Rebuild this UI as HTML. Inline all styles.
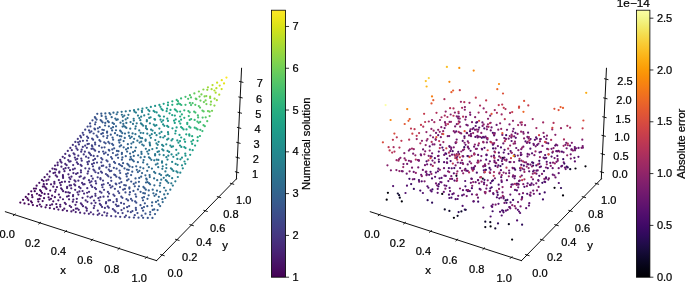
<!DOCTYPE html>
<html><head><meta charset="utf-8"><title>Numerical solution and absolute error</title>
<style>
html,body{margin:0;padding:0;background:#fff;}
body{width:685px;height:282px;overflow:hidden;font-family:"Liberation Sans",sans-serif;}
svg{display:block;will-change:transform;}
text{font-family:"Liberation Sans",sans-serif;font-size:10.3px;fill:#000;stroke:#000;stroke-width:0.22px;}
</style></head><body>
<svg width="685" height="282" viewBox="0 0 685 282">
<rect width="685" height="282" fill="#fff"/>
<g>
<circle cx="97.28" cy="113.86" r="1.12" fill="#39568c"/>
<circle cx="101.30" cy="113.65" r="1.12" fill="#375b8d"/>
<circle cx="94.89" cy="117.09" r="1.12" fill="#3a538b"/>
<circle cx="95.57" cy="118.20" r="1.12" fill="#3a538b"/>
<circle cx="105.34" cy="113.39" r="1.12" fill="#355f8d"/>
<circle cx="92.48" cy="120.28" r="1.12" fill="#3c4f8a"/>
<circle cx="101.61" cy="115.91" r="1.12" fill="#375a8c"/>
<circle cx="96.61" cy="119.52" r="1.12" fill="#3a538b"/>
<circle cx="109.39" cy="113.09" r="1.12" fill="#33638d"/>
<circle cx="90.06" cy="123.46" r="1.12" fill="#3e4c8a"/>
<circle cx="105.70" cy="116.69" r="1.12" fill="#355e8d"/>
<circle cx="95.59" cy="122.25" r="1.12" fill="#3b518b"/>
<circle cx="110.37" cy="114.29" r="1.12" fill="#33638d"/>
<circle cx="100.61" cy="120.04" r="1.12" fill="#39568c"/>
<circle cx="113.45" cy="112.74" r="1.12" fill="#31678e"/>
<circle cx="87.63" cy="126.60" r="1.12" fill="#3f4889"/>
<circle cx="90.40" cy="126.39" r="1.12" fill="#3e4a89"/>
<circle cx="95.07" cy="124.29" r="1.12" fill="#3c508b"/>
<circle cx="101.57" cy="121.02" r="1.12" fill="#38588c"/>
<circle cx="106.25" cy="118.72" r="1.12" fill="#365d8d"/>
<circle cx="117.54" cy="112.33" r="1.12" fill="#2f6b8e"/>
<circle cx="85.19" cy="129.72" r="1.12" fill="#404588"/>
<circle cx="111.69" cy="117.13" r="1.12" fill="#33638d"/>
<circle cx="102.63" cy="122.34" r="1.12" fill="#38588c"/>
<circle cx="116.64" cy="114.25" r="1.12" fill="#30698e"/>
<circle cx="121.64" cy="111.87" r="1.12" fill="#2e6f8e"/>
<circle cx="82.74" cy="132.82" r="1.12" fill="#424186"/>
<circle cx="89.00" cy="130.44" r="1.12" fill="#3f4788"/>
<circle cx="107.82" cy="121.21" r="1.12" fill="#365d8d"/>
<circle cx="105.26" cy="122.90" r="1.12" fill="#375a8c"/>
<circle cx="94.48" cy="128.72" r="1.12" fill="#3d4d8a"/>
<circle cx="125.76" cy="111.36" r="1.12" fill="#2c738e"/>
<circle cx="80.28" cy="135.89" r="1.12" fill="#433e85"/>
<circle cx="95.00" cy="129.39" r="1.12" fill="#3d4e8a"/>
<circle cx="108.80" cy="122.19" r="1.12" fill="#355e8d"/>
<circle cx="83.50" cy="134.76" r="1.12" fill="#424086"/>
<circle cx="99.71" cy="127.24" r="1.12" fill="#3b528b"/>
<circle cx="115.33" cy="118.57" r="1.12" fill="#31668e"/>
<circle cx="91.35" cy="131.46" r="1.12" fill="#3e4989"/>
<circle cx="97.88" cy="128.32" r="1.12" fill="#3c508b"/>
<circle cx="121.87" cy="114.75" r="1.12" fill="#2e6e8e"/>
<circle cx="89.86" cy="132.48" r="1.12" fill="#3f4788"/>
<circle cx="105.08" cy="125.50" r="1.12" fill="#38598c"/>
<circle cx="81.05" cy="137.39" r="1.12" fill="#433e85"/>
<circle cx="129.89" cy="110.79" r="1.12" fill="#2a788e"/>
<circle cx="77.81" cy="138.94" r="1.12" fill="#443a83"/>
<circle cx="116.43" cy="119.88" r="1.12" fill="#31668e"/>
<circle cx="117.74" cy="119.41" r="1.12" fill="#31678e"/>
<circle cx="124.29" cy="115.54" r="1.12" fill="#2d708e"/>
<circle cx="112.61" cy="122.98" r="1.12" fill="#34618d"/>
<circle cx="122.82" cy="116.78" r="1.12" fill="#2e6e8e"/>
<circle cx="93.62" cy="133.50" r="1.12" fill="#3e4a89"/>
<circle cx="87.06" cy="136.53" r="1.12" fill="#414287"/>
<circle cx="102.32" cy="129.75" r="1.12" fill="#3a538b"/>
<circle cx="98.43" cy="131.74" r="1.12" fill="#3c4f8a"/>
<circle cx="134.05" cy="110.15" r="1.12" fill="#287c8e"/>
<circle cx="108.87" cy="126.35" r="1.12" fill="#365c8d"/>
<circle cx="75.33" cy="141.98" r="1.12" fill="#453781"/>
<circle cx="128.39" cy="114.76" r="1.12" fill="#2b748e"/>
<circle cx="113.95" cy="123.94" r="1.12" fill="#33628d"/>
<circle cx="103.82" cy="130.05" r="1.12" fill="#39558c"/>
<circle cx="88.10" cy="137.91" r="1.12" fill="#414487"/>
<circle cx="79.95" cy="141.41" r="1.12" fill="#443b84"/>
<circle cx="78.11" cy="142.35" r="1.12" fill="#443983"/>
<circle cx="134.56" cy="111.70" r="1.12" fill="#287c8e"/>
<circle cx="82.93" cy="140.84" r="1.12" fill="#433e85"/>
<circle cx="138.22" cy="109.46" r="1.12" fill="#26818e"/>
<circle cx="72.84" cy="144.99" r="1.12" fill="#46337f"/>
<circle cx="122.78" cy="120.78" r="1.12" fill="#2f6c8e"/>
<circle cx="96.60" cy="135.55" r="1.12" fill="#3e4c8a"/>
<circle cx="127.52" cy="118.10" r="1.12" fill="#2c718e"/>
<circle cx="120.50" cy="122.70" r="1.12" fill="#31688e"/>
<circle cx="113.05" cy="127.16" r="1.12" fill="#355f8d"/>
<circle cx="125.69" cy="119.40" r="1.12" fill="#2e6f8e"/>
<circle cx="111.21" cy="128.33" r="1.12" fill="#365d8d"/>
<circle cx="135.95" cy="112.57" r="1.12" fill="#287d8e"/>
<circle cx="101.30" cy="133.93" r="1.12" fill="#3b518b"/>
<circle cx="87.04" cy="140.62" r="1.12" fill="#424186"/>
<circle cx="102.88" cy="133.20" r="1.12" fill="#3b528b"/>
<circle cx="92.13" cy="138.65" r="1.12" fill="#404688"/>
<circle cx="116.05" cy="126.26" r="1.12" fill="#33628d"/>
<circle cx="78.95" cy="144.43" r="1.12" fill="#443983"/>
<circle cx="107.10" cy="131.67" r="1.12" fill="#38588c"/>
<circle cx="70.33" cy="147.98" r="1.12" fill="#46307e"/>
<circle cx="142.41" cy="108.70" r="1.12" fill="#24868e"/>
<circle cx="75.72" cy="146.30" r="1.12" fill="#453581"/>
<circle cx="97.54" cy="137.10" r="1.12" fill="#3e4c8a"/>
<circle cx="107.03" cy="132.73" r="1.12" fill="#39568c"/>
<circle cx="93.10" cy="139.69" r="1.12" fill="#3f4788"/>
<circle cx="112.14" cy="130.39" r="1.12" fill="#365d8d"/>
<circle cx="141.85" cy="110.83" r="1.12" fill="#25848e"/>
<circle cx="123.33" cy="123.95" r="1.12" fill="#306a8e"/>
<circle cx="67.81" cy="150.96" r="1.12" fill="#472d7b"/>
<circle cx="146.62" cy="107.87" r="1.12" fill="#228b8d"/>
<circle cx="126.34" cy="122.92" r="1.12" fill="#2e6e8e"/>
<circle cx="103.36" cy="136.33" r="1.12" fill="#3b518b"/>
<circle cx="142.05" cy="112.09" r="1.12" fill="#25838e"/>
<circle cx="71.80" cy="150.13" r="1.12" fill="#46307e"/>
<circle cx="76.56" cy="148.39" r="1.12" fill="#453581"/>
<circle cx="87.55" cy="144.07" r="1.12" fill="#424086"/>
<circle cx="137.98" cy="115.55" r="1.12" fill="#287d8e"/>
<circle cx="133.67" cy="118.75" r="1.12" fill="#2a778e"/>
<circle cx="88.87" cy="143.76" r="1.12" fill="#424186"/>
<circle cx="115.99" cy="130.25" r="1.12" fill="#34608d"/>
<circle cx="122.60" cy="126.53" r="1.12" fill="#31688e"/>
<circle cx="85.16" cy="145.71" r="1.12" fill="#433e85"/>
<circle cx="123.93" cy="126.04" r="1.12" fill="#306a8e"/>
<circle cx="82.81" cy="146.99" r="1.12" fill="#443b84"/>
<circle cx="130.55" cy="122.07" r="1.12" fill="#2c728e"/>
<circle cx="107.52" cy="135.87" r="1.12" fill="#39558c"/>
<circle cx="65.28" cy="153.92" r="1.12" fill="#472a7a"/>
<circle cx="99.41" cy="140.22" r="1.12" fill="#3d4d8a"/>
<circle cx="150.85" cy="106.97" r="1.12" fill="#21908d"/>
<circle cx="77.59" cy="149.82" r="1.12" fill="#453581"/>
<circle cx="110.80" cy="134.69" r="1.12" fill="#38598c"/>
<circle cx="133.83" cy="120.56" r="1.12" fill="#2a768e"/>
<circle cx="95.09" cy="142.65" r="1.12" fill="#3f4788"/>
<circle cx="148.24" cy="109.78" r="1.12" fill="#228b8d"/>
<circle cx="114.98" cy="133.15" r="1.12" fill="#355e8d"/>
<circle cx="125.31" cy="126.99" r="1.12" fill="#2f6b8e"/>
<circle cx="100.40" cy="141.27" r="1.12" fill="#3d4d8a"/>
<circle cx="120.12" cy="130.67" r="1.12" fill="#32648e"/>
<circle cx="107.02" cy="138.00" r="1.12" fill="#3a548c"/>
<circle cx="91.91" cy="145.38" r="1.12" fill="#414487"/>
<circle cx="141.17" cy="116.69" r="1.12" fill="#27808e"/>
<circle cx="139.32" cy="118.10" r="1.12" fill="#287d8e"/>
<circle cx="81.72" cy="149.69" r="1.12" fill="#443983"/>
<circle cx="86.85" cy="147.84" r="1.12" fill="#433e85"/>
<circle cx="62.74" cy="156.87" r="1.12" fill="#482878"/>
<circle cx="95.18" cy="144.39" r="1.12" fill="#3f4788"/>
<circle cx="73.57" cy="153.33" r="1.12" fill="#46307e"/>
<circle cx="155.10" cy="105.99" r="1.12" fill="#1f958b"/>
<circle cx="149.41" cy="111.05" r="1.12" fill="#228c8d"/>
<circle cx="126.33" cy="127.98" r="1.12" fill="#2f6b8e"/>
<circle cx="144.22" cy="115.42" r="1.12" fill="#25838e"/>
<circle cx="69.22" cy="155.40" r="1.12" fill="#472d7b"/>
<circle cx="92.29" cy="146.43" r="1.12" fill="#414487"/>
<circle cx="132.97" cy="123.97" r="1.12" fill="#2c738e"/>
<circle cx="121.13" cy="131.68" r="1.12" fill="#32648e"/>
<circle cx="81.17" cy="151.74" r="1.12" fill="#453882"/>
<circle cx="69.73" cy="156.12" r="1.12" fill="#472d7b"/>
<circle cx="74.52" cy="154.43" r="1.12" fill="#46327e"/>
<circle cx="112.57" cy="137.54" r="1.12" fill="#375a8c"/>
<circle cx="64.67" cy="158.08" r="1.12" fill="#482979"/>
<circle cx="140.32" cy="120.17" r="1.12" fill="#287d8e"/>
<circle cx="117.36" cy="135.16" r="1.12" fill="#355f8d"/>
<circle cx="60.19" cy="159.80" r="1.12" fill="#482475"/>
<circle cx="104.23" cy="142.29" r="1.12" fill="#3c508b"/>
<circle cx="148.48" cy="114.25" r="1.12" fill="#23898e"/>
<circle cx="159.38" cy="104.94" r="1.12" fill="#1e9b8a"/>
<circle cx="136.72" cy="123.29" r="1.12" fill="#2a778e"/>
<circle cx="122.25" cy="133.03" r="1.12" fill="#32658e"/>
<circle cx="91.49" cy="148.85" r="1.12" fill="#424186"/>
<circle cx="84.84" cy="151.74" r="1.12" fill="#443a83"/>
<circle cx="92.83" cy="148.54" r="1.12" fill="#414287"/>
<circle cx="153.65" cy="110.90" r="1.12" fill="#21918c"/>
<circle cx="99.10" cy="145.83" r="1.12" fill="#3e4989"/>
<circle cx="130.25" cy="128.67" r="1.12" fill="#2e6f8e"/>
<circle cx="105.58" cy="143.33" r="1.12" fill="#3c508b"/>
<circle cx="108.36" cy="141.95" r="1.12" fill="#3a538b"/>
<circle cx="60.60" cy="161.44" r="1.12" fill="#482475"/>
<circle cx="113.16" cy="139.66" r="1.12" fill="#38598c"/>
<circle cx="119.82" cy="136.09" r="1.12" fill="#34618d"/>
<circle cx="78.29" cy="155.71" r="1.12" fill="#463480"/>
<circle cx="57.62" cy="162.71" r="1.12" fill="#482173"/>
<circle cx="135.76" cy="126.37" r="1.12" fill="#2b748e"/>
<circle cx="154.73" cy="111.82" r="1.12" fill="#20928c"/>
<circle cx="94.16" cy="149.62" r="1.12" fill="#414487"/>
<circle cx="124.98" cy="133.54" r="1.12" fill="#31678e"/>
<circle cx="160.41" cy="106.86" r="1.12" fill="#1e9b8a"/>
<circle cx="163.67" cy="103.82" r="1.12" fill="#1fa188"/>
<circle cx="74.90" cy="157.56" r="1.12" fill="#46307e"/>
<circle cx="68.22" cy="160.12" r="1.12" fill="#472a7a"/>
<circle cx="83.75" cy="154.47" r="1.12" fill="#443983"/>
<circle cx="140.93" cy="123.43" r="1.12" fill="#287c8e"/>
<circle cx="121.36" cy="136.35" r="1.12" fill="#33628d"/>
<circle cx="88.91" cy="152.61" r="1.12" fill="#433e85"/>
<circle cx="61.53" cy="162.57" r="1.12" fill="#482576"/>
<circle cx="109.46" cy="143.35" r="1.12" fill="#3a538b"/>
<circle cx="149.22" cy="117.90" r="1.12" fill="#24878e"/>
<circle cx="128.62" cy="132.68" r="1.12" fill="#2f6b8e"/>
<circle cx="101.82" cy="147.60" r="1.12" fill="#3e4a89"/>
<circle cx="95.14" cy="150.70" r="1.12" fill="#414487"/>
<circle cx="146.85" cy="120.22" r="1.12" fill="#25838e"/>
<circle cx="150.58" cy="117.26" r="1.12" fill="#23898e"/>
<circle cx="135.30" cy="128.65" r="1.12" fill="#2c738e"/>
<circle cx="156.64" cy="112.40" r="1.12" fill="#20928c"/>
<circle cx="55.04" cy="165.62" r="1.12" fill="#481f70"/>
<circle cx="141.99" cy="124.39" r="1.12" fill="#287c8e"/>
<circle cx="89.89" cy="153.70" r="1.12" fill="#433e85"/>
<circle cx="57.65" cy="165.24" r="1.12" fill="#482173"/>
<circle cx="69.25" cy="161.59" r="1.12" fill="#472a7a"/>
<circle cx="77.27" cy="158.77" r="1.12" fill="#46327e"/>
<circle cx="167.99" cy="102.60" r="1.12" fill="#21a685"/>
<circle cx="104.52" cy="147.33" r="1.12" fill="#3d4e8a"/>
<circle cx="161.48" cy="108.92" r="1.12" fill="#1e9b8a"/>
<circle cx="70.58" cy="161.36" r="1.12" fill="#472c7a"/>
<circle cx="146.82" cy="121.36" r="1.12" fill="#26828e"/>
<circle cx="75.75" cy="159.70" r="1.12" fill="#46307e"/>
<circle cx="112.17" cy="143.99" r="1.12" fill="#39558c"/>
<circle cx="118.85" cy="140.48" r="1.12" fill="#355e8d"/>
<circle cx="120.46" cy="139.66" r="1.12" fill="#34608d"/>
<circle cx="65.29" cy="163.99" r="1.12" fill="#482677"/>
<circle cx="81.23" cy="158.51" r="1.12" fill="#453581"/>
<circle cx="86.05" cy="156.68" r="1.12" fill="#443a83"/>
<circle cx="124.76" cy="137.93" r="1.12" fill="#32648e"/>
<circle cx="143.16" cy="125.72" r="1.12" fill="#287d8e"/>
<circle cx="90.95" cy="155.14" r="1.12" fill="#423f85"/>
<circle cx="52.45" cy="168.51" r="1.12" fill="#481c6e"/>
<circle cx="132.57" cy="133.39" r="1.12" fill="#2e6e8e"/>
<circle cx="98.99" cy="151.83" r="1.12" fill="#3f4788"/>
<circle cx="162.69" cy="110.18" r="1.12" fill="#1e9b8a"/>
<circle cx="113.18" cy="145.04" r="1.12" fill="#39568c"/>
<circle cx="167.93" cy="105.24" r="1.12" fill="#20a486"/>
<circle cx="129.20" cy="135.92" r="1.12" fill="#306a8e"/>
<circle cx="172.32" cy="101.31" r="1.12" fill="#26ad81"/>
<circle cx="61.40" cy="166.69" r="1.12" fill="#482374"/>
<circle cx="66.58" cy="165.15" r="1.12" fill="#482878"/>
<circle cx="54.68" cy="169.02" r="1.12" fill="#481d6f"/>
<circle cx="119.45" cy="142.62" r="1.12" fill="#365d8d"/>
<circle cx="139.23" cy="130.39" r="1.12" fill="#2a768e"/>
<circle cx="88.45" cy="157.85" r="1.12" fill="#443b84"/>
<circle cx="154.41" cy="119.04" r="1.12" fill="#228c8d"/>
<circle cx="158.78" cy="115.40" r="1.12" fill="#20938c"/>
<circle cx="76.90" cy="162.40" r="1.12" fill="#46307e"/>
<circle cx="81.74" cy="160.64" r="1.12" fill="#463480"/>
<circle cx="103.14" cy="151.60" r="1.12" fill="#3e4a89"/>
<circle cx="93.64" cy="155.95" r="1.12" fill="#424086"/>
<circle cx="145.95" cy="126.04" r="1.12" fill="#277f8e"/>
<circle cx="123.63" cy="141.11" r="1.12" fill="#33628d"/>
<circle cx="56.16" cy="169.55" r="1.12" fill="#481f70"/>
<circle cx="149.90" cy="123.34" r="1.12" fill="#25848e"/>
<circle cx="49.85" cy="171.39" r="1.12" fill="#481a6c"/>
<circle cx="167.03" cy="108.66" r="1.12" fill="#1fa187"/>
<circle cx="135.44" cy="134.20" r="1.12" fill="#2d718e"/>
<circle cx="155.01" cy="119.69" r="1.12" fill="#228c8d"/>
<circle cx="131.70" cy="136.80" r="1.12" fill="#2f6c8e"/>
<circle cx="108.79" cy="149.80" r="1.12" fill="#3c508b"/>
<circle cx="130.19" cy="138.05" r="1.12" fill="#30698e"/>
<circle cx="73.16" cy="165.07" r="1.12" fill="#472d7b"/>
<circle cx="176.69" cy="99.92" r="1.12" fill="#2eb37c"/>
<circle cx="159.87" cy="116.32" r="1.12" fill="#20938c"/>
<circle cx="172.28" cy="104.78" r="1.12" fill="#24aa83"/>
<circle cx="77.95" cy="163.88" r="1.12" fill="#46307e"/>
<circle cx="109.34" cy="150.51" r="1.12" fill="#3c508b"/>
<circle cx="65.52" cy="168.18" r="1.12" fill="#482576"/>
<circle cx="97.52" cy="156.15" r="1.12" fill="#414487"/>
<circle cx="145.97" cy="128.17" r="1.12" fill="#277e8e"/>
<circle cx="114.18" cy="148.26" r="1.12" fill="#39558c"/>
<circle cx="63.63" cy="169.02" r="1.12" fill="#482475"/>
<circle cx="105.58" cy="152.69" r="1.12" fill="#3e4c8a"/>
<circle cx="112.31" cy="149.39" r="1.12" fill="#3a538b"/>
<circle cx="166.62" cy="111.14" r="1.12" fill="#1f9f88"/>
<circle cx="104.06" cy="153.75" r="1.12" fill="#3e4a89"/>
<circle cx="68.56" cy="167.78" r="1.12" fill="#482878"/>
<circle cx="47.23" cy="174.27" r="1.12" fill="#481769"/>
<circle cx="140.72" cy="132.82" r="1.12" fill="#2a768e"/>
<circle cx="121.12" cy="145.27" r="1.12" fill="#355e8d"/>
<circle cx="55.07" cy="172.54" r="1.12" fill="#481d6f"/>
<circle cx="119.72" cy="146.43" r="1.12" fill="#365c8d"/>
<circle cx="53.45" cy="173.03" r="1.12" fill="#481c6e"/>
<circle cx="177.92" cy="101.19" r="1.12" fill="#2eb37c"/>
<circle cx="147.04" cy="129.14" r="1.12" fill="#277f8e"/>
<circle cx="87.36" cy="162.03" r="1.12" fill="#443983"/>
<circle cx="59.37" cy="171.67" r="1.12" fill="#482071"/>
<circle cx="88.97" cy="161.41" r="1.12" fill="#443a83"/>
<circle cx="95.01" cy="158.92" r="1.12" fill="#424086"/>
<circle cx="80.62" cy="164.78" r="1.12" fill="#46327e"/>
<circle cx="181.07" cy="98.44" r="1.12" fill="#38b977"/>
<circle cx="153.79" cy="124.55" r="1.12" fill="#23888e"/>
<circle cx="93.28" cy="160.19" r="1.12" fill="#433e85"/>
<circle cx="134.16" cy="138.80" r="1.12" fill="#2e6d8e"/>
<circle cx="170.49" cy="109.90" r="1.12" fill="#20a486"/>
<circle cx="143.25" cy="133.10" r="1.12" fill="#2a788e"/>
<circle cx="59.24" cy="172.70" r="1.12" fill="#482071"/>
<circle cx="163.95" cy="116.55" r="1.12" fill="#1f988b"/>
<circle cx="64.46" cy="171.20" r="1.12" fill="#482475"/>
<circle cx="160.55" cy="119.68" r="1.12" fill="#20928c"/>
<circle cx="139.13" cy="136.40" r="1.12" fill="#2c728e"/>
<circle cx="44.60" cy="177.13" r="1.12" fill="#481668"/>
<circle cx="177.28" cy="104.25" r="1.12" fill="#2ab07f"/>
<circle cx="81.59" cy="165.91" r="1.12" fill="#46337f"/>
<circle cx="107.97" cy="154.85" r="1.12" fill="#3d4d8a"/>
<circle cx="101.22" cy="158.02" r="1.12" fill="#404688"/>
<circle cx="127.84" cy="144.14" r="1.12" fill="#32648e"/>
<circle cx="74.83" cy="168.55" r="1.12" fill="#472d7b"/>
<circle cx="69.97" cy="170.20" r="1.12" fill="#482878"/>
<circle cx="178.66" cy="103.40" r="1.12" fill="#2db27d"/>
<circle cx="72.94" cy="169.43" r="1.12" fill="#472a7a"/>
<circle cx="49.49" cy="176.67" r="1.12" fill="#48186a"/>
<circle cx="87.88" cy="164.19" r="1.12" fill="#453882"/>
<circle cx="116.93" cy="150.91" r="1.12" fill="#39568c"/>
<circle cx="112.92" cy="153.00" r="1.12" fill="#3b528b"/>
<circle cx="154.99" cy="125.87" r="1.12" fill="#23888e"/>
<circle cx="123.67" cy="147.34" r="1.12" fill="#355f8d"/>
<circle cx="169.58" cy="113.35" r="1.12" fill="#1fa188"/>
<circle cx="156.37" cy="125.22" r="1.12" fill="#238a8d"/>
<circle cx="55.78" cy="175.42" r="1.12" fill="#481c6e"/>
<circle cx="185.48" cy="96.86" r="1.12" fill="#44bf70"/>
<circle cx="151.08" cy="129.64" r="1.12" fill="#26828e"/>
<circle cx="133.29" cy="142.23" r="1.12" fill="#306a8e"/>
<circle cx="131.40" cy="143.51" r="1.12" fill="#31688e"/>
<circle cx="118.48" cy="151.23" r="1.12" fill="#38598c"/>
<circle cx="163.14" cy="120.29" r="1.12" fill="#1f948c"/>
<circle cx="140.51" cy="137.98" r="1.12" fill="#2c738e"/>
<circle cx="161.63" cy="121.80" r="1.12" fill="#20928c"/>
<circle cx="174.86" cy="109.45" r="1.12" fill="#24aa83"/>
<circle cx="102.32" cy="159.48" r="1.12" fill="#404688"/>
<circle cx="93.94" cy="163.16" r="1.12" fill="#433e85"/>
<circle cx="41.95" cy="179.99" r="1.12" fill="#471365"/>
<circle cx="180.17" cy="104.13" r="1.12" fill="#2fb47c"/>
<circle cx="92.05" cy="164.15" r="1.12" fill="#443b84"/>
<circle cx="147.28" cy="133.68" r="1.12" fill="#287c8e"/>
<circle cx="137.38" cy="140.72" r="1.12" fill="#2e6f8e"/>
<circle cx="97.01" cy="162.57" r="1.12" fill="#424086"/>
<circle cx="57.08" cy="176.64" r="1.12" fill="#481d6f"/>
<circle cx="142.10" cy="138.17" r="1.12" fill="#2b748e"/>
<circle cx="152.54" cy="130.56" r="1.12" fill="#25838e"/>
<circle cx="62.91" cy="175.24" r="1.12" fill="#482173"/>
<circle cx="48.37" cy="179.66" r="1.12" fill="#481769"/>
<circle cx="167.27" cy="118.72" r="1.12" fill="#1f9a8a"/>
<circle cx="175.99" cy="110.34" r="1.12" fill="#24aa83"/>
<circle cx="43.48" cy="181.03" r="1.12" fill="#471365"/>
<circle cx="111.09" cy="157.02" r="1.12" fill="#3c4f8a"/>
<circle cx="189.92" cy="95.18" r="1.12" fill="#52c569"/>
<circle cx="181.30" cy="105.00" r="1.12" fill="#2fb47c"/>
<circle cx="46.46" cy="180.43" r="1.12" fill="#481668"/>
<circle cx="85.34" cy="168.30" r="1.12" fill="#463480"/>
<circle cx="68.44" cy="174.27" r="1.12" fill="#482576"/>
<circle cx="128.01" cy="148.21" r="1.12" fill="#33628d"/>
<circle cx="126.12" cy="149.43" r="1.12" fill="#34608d"/>
<circle cx="73.40" cy="173.01" r="1.12" fill="#472a7a"/>
<circle cx="172.19" cy="115.06" r="1.12" fill="#1fa287"/>
<circle cx="80.91" cy="170.47" r="1.12" fill="#46307e"/>
<circle cx="101.26" cy="162.34" r="1.12" fill="#414487"/>
<circle cx="115.94" cy="155.32" r="1.12" fill="#3a548c"/>
<circle cx="39.30" cy="182.83" r="1.12" fill="#471063"/>
<circle cx="117.56" cy="154.55" r="1.12" fill="#39558c"/>
<circle cx="62.98" cy="176.66" r="1.12" fill="#482173"/>
<circle cx="106.51" cy="160.27" r="1.12" fill="#3e4989"/>
<circle cx="131.11" cy="147.26" r="1.12" fill="#31668e"/>
<circle cx="92.95" cy="166.34" r="1.12" fill="#443b84"/>
<circle cx="188.15" cy="98.85" r="1.12" fill="#48c16e"/>
<circle cx="121.92" cy="152.95" r="1.12" fill="#375b8d"/>
<circle cx="163.08" cy="124.44" r="1.12" fill="#20928c"/>
<circle cx="139.61" cy="142.62" r="1.12" fill="#2d708e"/>
<circle cx="177.24" cy="111.60" r="1.12" fill="#25ab82"/>
<circle cx="151.71" cy="134.17" r="1.12" fill="#27808e"/>
<circle cx="149.81" cy="135.61" r="1.12" fill="#287d8e"/>
<circle cx="141.24" cy="141.69" r="1.12" fill="#2c718e"/>
<circle cx="89.24" cy="168.64" r="1.12" fill="#453882"/>
<circle cx="112.08" cy="158.66" r="1.12" fill="#3c4f8a"/>
<circle cx="77.63" cy="173.04" r="1.12" fill="#472d7b"/>
<circle cx="168.00" cy="120.94" r="1.12" fill="#1f9a8a"/>
<circle cx="63.08" cy="177.91" r="1.12" fill="#482173"/>
<circle cx="159.40" cy="128.54" r="1.12" fill="#228b8d"/>
<circle cx="80.98" cy="172.26" r="1.12" fill="#472f7d"/>
<circle cx="76.09" cy="173.97" r="1.12" fill="#472c7a"/>
<circle cx="121.86" cy="154.06" r="1.12" fill="#375a8c"/>
<circle cx="107.52" cy="161.37" r="1.12" fill="#3e4989"/>
<circle cx="191.01" cy="97.45" r="1.12" fill="#52c569"/>
<circle cx="194.38" cy="93.40" r="1.12" fill="#63cb5f"/>
<circle cx="145.62" cy="139.64" r="1.12" fill="#2a778e"/>
<circle cx="154.84" cy="132.88" r="1.12" fill="#25848e"/>
<circle cx="127.12" cy="151.61" r="1.12" fill="#34608d"/>
<circle cx="174.83" cy="115.55" r="1.12" fill="#21a585"/>
<circle cx="36.63" cy="185.67" r="1.12" fill="#470d60"/>
<circle cx="58.83" cy="180.03" r="1.12" fill="#481d6f"/>
<circle cx="43.76" cy="184.24" r="1.12" fill="#471365"/>
<circle cx="185.49" cy="104.84" r="1.12" fill="#38b977"/>
<circle cx="164.31" cy="125.76" r="1.12" fill="#20928c"/>
<circle cx="71.44" cy="176.71" r="1.12" fill="#482677"/>
<circle cx="145.59" cy="140.80" r="1.12" fill="#2a768e"/>
<circle cx="54.36" cy="181.91" r="1.12" fill="#481a6c"/>
<circle cx="69.29" cy="177.55" r="1.12" fill="#482576"/>
<circle cx="46.82" cy="184.00" r="1.12" fill="#481467"/>
<circle cx="135.86" cy="147.50" r="1.12" fill="#306a8e"/>
<circle cx="180.15" cy="111.55" r="1.12" fill="#28ae80"/>
<circle cx="118.11" cy="157.86" r="1.12" fill="#3a548c"/>
<circle cx="88.15" cy="171.45" r="1.12" fill="#453581"/>
<circle cx="101.84" cy="165.98" r="1.12" fill="#414287"/>
<circle cx="150.87" cy="137.77" r="1.12" fill="#287d8e"/>
<circle cx="93.41" cy="169.60" r="1.12" fill="#443a83"/>
<circle cx="103.21" cy="165.66" r="1.12" fill="#404588"/>
<circle cx="99.40" cy="167.71" r="1.12" fill="#424086"/>
<circle cx="142.25" cy="144.62" r="1.12" fill="#2c718e"/>
<circle cx="51.03" cy="184.27" r="1.12" fill="#481769"/>
<circle cx="198.87" cy="91.50" r="1.12" fill="#75d054"/>
<circle cx="33.94" cy="188.51" r="1.12" fill="#460b5e"/>
<circle cx="42.83" cy="186.56" r="1.12" fill="#471164"/>
<circle cx="167.19" cy="125.93" r="1.12" fill="#1f958b"/>
<circle cx="54.38" cy="183.68" r="1.12" fill="#481a6c"/>
<circle cx="189.89" cy="102.96" r="1.12" fill="#44bf70"/>
<circle cx="70.33" cy="179.09" r="1.12" fill="#482576"/>
<circle cx="44.19" cy="186.42" r="1.12" fill="#471365"/>
<circle cx="122.42" cy="157.38" r="1.12" fill="#38598c"/>
<circle cx="156.53" cy="135.13" r="1.12" fill="#25848e"/>
<circle cx="35.98" cy="188.62" r="1.12" fill="#470d60"/>
<circle cx="94.41" cy="170.74" r="1.12" fill="#443b84"/>
<circle cx="114.07" cy="161.95" r="1.12" fill="#3c4f8a"/>
<circle cx="61.87" cy="182.02" r="1.12" fill="#481f70"/>
<circle cx="99.31" cy="168.80" r="1.12" fill="#424086"/>
<circle cx="87.59" cy="173.57" r="1.12" fill="#463480"/>
<circle cx="130.07" cy="153.55" r="1.12" fill="#33628d"/>
<circle cx="59.95" cy="182.84" r="1.12" fill="#481d6f"/>
<circle cx="125.79" cy="156.14" r="1.12" fill="#365d8d"/>
<circle cx="174.04" cy="120.64" r="1.12" fill="#1fa188"/>
<circle cx="80.77" cy="176.27" r="1.12" fill="#472e7c"/>
<circle cx="109.63" cy="164.51" r="1.12" fill="#3e4a89"/>
<circle cx="159.56" cy="133.42" r="1.12" fill="#23888e"/>
<circle cx="161.46" cy="131.89" r="1.12" fill="#228b8d"/>
<circle cx="184.28" cy="110.35" r="1.12" fill="#2fb47c"/>
<circle cx="79.56" cy="176.79" r="1.12" fill="#472d7b"/>
<circle cx="134.98" cy="150.97" r="1.12" fill="#31678e"/>
<circle cx="175.69" cy="119.39" r="1.12" fill="#20a386"/>
<circle cx="64.94" cy="181.68" r="1.12" fill="#482173"/>
<circle cx="133.08" cy="152.24" r="1.12" fill="#32658e"/>
<circle cx="143.70" cy="145.61" r="1.12" fill="#2c718e"/>
<circle cx="168.31" cy="126.88" r="1.12" fill="#1f968b"/>
<circle cx="45.47" cy="187.69" r="1.12" fill="#471365"/>
<circle cx="195.77" cy="98.58" r="1.12" fill="#5cc863"/>
<circle cx="115.11" cy="163.06" r="1.12" fill="#3c508b"/>
<circle cx="181.86" cy="114.44" r="1.12" fill="#27ad81"/>
<circle cx="121.93" cy="159.63" r="1.12" fill="#38588c"/>
<circle cx="106.38" cy="167.38" r="1.12" fill="#404688"/>
<circle cx="31.25" cy="191.33" r="1.12" fill="#46085c"/>
<circle cx="149.63" cy="142.59" r="1.12" fill="#29798e"/>
<circle cx="180.14" cy="116.50" r="1.12" fill="#25ab82"/>
<circle cx="95.50" cy="172.25" r="1.12" fill="#443b84"/>
<circle cx="203.39" cy="89.50" r="1.12" fill="#89d548"/>
<circle cx="192.58" cy="103.24" r="1.12" fill="#4cc26c"/>
<circle cx="69.18" cy="181.82" r="1.12" fill="#482475"/>
<circle cx="191.05" cy="105.08" r="1.12" fill="#44bf70"/>
<circle cx="109.75" cy="166.35" r="1.12" fill="#3e4989"/>
<circle cx="74.47" cy="180.25" r="1.12" fill="#482878"/>
<circle cx="40.04" cy="190.01" r="1.12" fill="#470e61"/>
<circle cx="53.26" cy="186.73" r="1.12" fill="#48186a"/>
<circle cx="34.75" cy="191.24" r="1.12" fill="#460b5e"/>
<circle cx="196.43" cy="99.18" r="1.12" fill="#5cc863"/>
<circle cx="174.78" cy="122.89" r="1.12" fill="#1fa088"/>
<circle cx="46.40" cy="188.90" r="1.12" fill="#471365"/>
<circle cx="60.77" cy="185.08" r="1.12" fill="#481d6f"/>
<circle cx="155.30" cy="140.03" r="1.12" fill="#26818e"/>
<circle cx="84.66" cy="177.68" r="1.12" fill="#46307e"/>
<circle cx="149.83" cy="144.11" r="1.12" fill="#2a788e"/>
<circle cx="199.51" cy="96.62" r="1.12" fill="#6ccd5a"/>
<circle cx="100.94" cy="171.60" r="1.12" fill="#424086"/>
<circle cx="130.65" cy="156.91" r="1.12" fill="#34608d"/>
<circle cx="201.44" cy="94.48" r="1.12" fill="#77d153"/>
<circle cx="75.44" cy="181.43" r="1.12" fill="#482979"/>
<circle cx="83.59" cy="178.67" r="1.12" fill="#472f7d"/>
<circle cx="57.00" cy="187.08" r="1.12" fill="#481a6c"/>
<circle cx="98.25" cy="173.12" r="1.12" fill="#433d84"/>
<circle cx="40.96" cy="191.23" r="1.12" fill="#470e61"/>
<circle cx="91.41" cy="176.01" r="1.12" fill="#453781"/>
<circle cx="78.38" cy="180.73" r="1.12" fill="#472a7a"/>
<circle cx="28.54" cy="194.16" r="1.12" fill="#46075a"/>
<circle cx="160.37" cy="137.23" r="1.12" fill="#24878e"/>
<circle cx="188.38" cy="111.10" r="1.12" fill="#35b779"/>
<circle cx="133.79" cy="155.97" r="1.12" fill="#32648e"/>
<circle cx="119.10" cy="164.15" r="1.12" fill="#3b528b"/>
<circle cx="150.05" cy="145.45" r="1.12" fill="#2a788e"/>
<circle cx="207.94" cy="87.37" r="1.12" fill="#a0da39"/>
<circle cx="179.17" cy="121.41" r="1.12" fill="#21a685"/>
<circle cx="145.84" cy="148.84" r="1.12" fill="#2c728e"/>
<circle cx="108.80" cy="169.65" r="1.12" fill="#3f4788"/>
<circle cx="181.09" cy="119.64" r="1.12" fill="#23a983"/>
<circle cx="101.95" cy="172.74" r="1.12" fill="#424086"/>
<circle cx="141.38" cy="151.97" r="1.12" fill="#2e6d8e"/>
<circle cx="167.99" cy="132.17" r="1.12" fill="#20928c"/>
<circle cx="172.46" cy="128.34" r="1.12" fill="#1f998a"/>
<circle cx="195.31" cy="104.79" r="1.12" fill="#50c46a"/>
<circle cx="123.07" cy="163.20" r="1.12" fill="#39568c"/>
<circle cx="113.83" cy="167.87" r="1.12" fill="#3d4d8a"/>
<circle cx="50.21" cy="190.56" r="1.12" fill="#481467"/>
<circle cx="36.94" cy="193.75" r="1.12" fill="#460b5e"/>
<circle cx="129.92" cy="159.58" r="1.12" fill="#355f8d"/>
<circle cx="31.98" cy="195.02" r="1.12" fill="#46085c"/>
<circle cx="207.26" cy="89.87" r="1.12" fill="#95d840"/>
<circle cx="41.96" cy="192.82" r="1.12" fill="#470e61"/>
<circle cx="69.64" cy="185.47" r="1.12" fill="#482374"/>
<circle cx="131.30" cy="159.14" r="1.12" fill="#34608d"/>
<circle cx="184.29" cy="117.86" r="1.12" fill="#28ae80"/>
<circle cx="164.79" cy="136.02" r="1.12" fill="#228c8d"/>
<circle cx="120.52" cy="165.25" r="1.12" fill="#3a538b"/>
<circle cx="71.01" cy="185.27" r="1.12" fill="#482475"/>
<circle cx="138.15" cy="155.30" r="1.12" fill="#31688e"/>
<circle cx="74.23" cy="184.28" r="1.12" fill="#482677"/>
<circle cx="163.25" cy="137.50" r="1.12" fill="#238a8d"/>
<circle cx="55.81" cy="189.78" r="1.12" fill="#48186a"/>
<circle cx="189.67" cy="112.36" r="1.12" fill="#37b878"/>
<circle cx="61.12" cy="188.36" r="1.12" fill="#481c6e"/>
<circle cx="25.81" cy="196.98" r="1.12" fill="#450457"/>
<circle cx="67.15" cy="186.97" r="1.12" fill="#482173"/>
<circle cx="156.48" cy="143.38" r="1.12" fill="#27808e"/>
<circle cx="141.56" cy="153.88" r="1.12" fill="#2f6c8e"/>
<circle cx="158.65" cy="141.87" r="1.12" fill="#26828e"/>
<circle cx="109.93" cy="171.15" r="1.12" fill="#3f4788"/>
<circle cx="168.22" cy="134.13" r="1.12" fill="#21918c"/>
<circle cx="200.47" cy="100.59" r="1.12" fill="#67cc5c"/>
<circle cx="92.78" cy="178.65" r="1.12" fill="#453781"/>
<circle cx="111.31" cy="170.81" r="1.12" fill="#3e4989"/>
<circle cx="88.96" cy="180.20" r="1.12" fill="#46337f"/>
<circle cx="180.31" cy="123.58" r="1.12" fill="#21a585"/>
<circle cx="82.09" cy="182.89" r="1.12" fill="#472d7b"/>
<circle cx="116.62" cy="168.63" r="1.12" fill="#3c4f8a"/>
<circle cx="212.52" cy="85.12" r="1.12" fill="#b5de2b"/>
<circle cx="176.60" cy="127.44" r="1.12" fill="#1f9f88"/>
<circle cx="44.61" cy="193.98" r="1.12" fill="#471063"/>
<circle cx="132.74" cy="160.21" r="1.12" fill="#34618d"/>
<circle cx="97.68" cy="177.31" r="1.12" fill="#443b84"/>
<circle cx="39.29" cy="195.24" r="1.12" fill="#470d60"/>
<circle cx="75.21" cy="185.47" r="1.12" fill="#482677"/>
<circle cx="67.03" cy="188.04" r="1.12" fill="#482071"/>
<circle cx="204.60" cy="96.42" r="1.12" fill="#7cd250"/>
<circle cx="122.04" cy="166.22" r="1.12" fill="#3a548c"/>
<circle cx="62.08" cy="189.57" r="1.12" fill="#481c6e"/>
<circle cx="105.92" cy="174.00" r="1.12" fill="#414287"/>
<circle cx="149.17" cy="150.22" r="1.12" fill="#2b748e"/>
<circle cx="147.25" cy="151.60" r="1.12" fill="#2c728e"/>
<circle cx="32.38" cy="197.24" r="1.12" fill="#46085c"/>
<circle cx="127.36" cy="163.84" r="1.12" fill="#375a8c"/>
<circle cx="55.18" cy="191.84" r="1.12" fill="#48186a"/>
<circle cx="188.78" cy="116.04" r="1.12" fill="#31b57b"/>
<circle cx="27.41" cy="198.47" r="1.12" fill="#450559"/>
<circle cx="48.28" cy="194.03" r="1.12" fill="#471365"/>
<circle cx="40.80" cy="195.85" r="1.12" fill="#470d60"/>
<circle cx="157.71" cy="144.78" r="1.12" fill="#27808e"/>
<circle cx="23.07" cy="199.79" r="1.12" fill="#440256"/>
<circle cx="152.33" cy="149.06" r="1.12" fill="#2a788e"/>
<circle cx="206.30" cy="96.11" r="1.12" fill="#84d44b"/>
<circle cx="133.81" cy="161.30" r="1.12" fill="#34618d"/>
<circle cx="71.24" cy="188.28" r="1.12" fill="#482374"/>
<circle cx="211.61" cy="89.14" r="1.12" fill="#a8db34"/>
<circle cx="83.17" cy="184.45" r="1.12" fill="#472d7b"/>
<circle cx="198.83" cy="106.04" r="1.12" fill="#56c667"/>
<circle cx="91.43" cy="181.49" r="1.12" fill="#463480"/>
<circle cx="140.69" cy="157.41" r="1.12" fill="#30698e"/>
<circle cx="194.19" cy="111.65" r="1.12" fill="#40bd72"/>
<circle cx="107.32" cy="175.16" r="1.12" fill="#414487"/>
<circle cx="84.55" cy="184.21" r="1.12" fill="#472e7c"/>
<circle cx="100.44" cy="178.19" r="1.12" fill="#433d84"/>
<circle cx="175.69" cy="130.94" r="1.12" fill="#1e9b8a"/>
<circle cx="63.12" cy="191.15" r="1.12" fill="#481d6f"/>
<circle cx="128.43" cy="164.94" r="1.12" fill="#375b8d"/>
<circle cx="89.87" cy="182.47" r="1.12" fill="#46337f"/>
<circle cx="28.38" cy="200.09" r="1.12" fill="#450559"/>
<circle cx="217.12" cy="82.74" r="1.12" fill="#cde11d"/>
<circle cx="79.12" cy="186.97" r="1.12" fill="#482979"/>
<circle cx="167.15" cy="139.58" r="1.12" fill="#228d8d"/>
<circle cx="181.08" cy="127.11" r="1.12" fill="#20a486"/>
<circle cx="168.36" cy="138.64" r="1.12" fill="#218f8d"/>
<circle cx="95.52" cy="181.22" r="1.12" fill="#453882"/>
<circle cx="148.32" cy="153.82" r="1.12" fill="#2c718e"/>
<circle cx="100.48" cy="179.30" r="1.12" fill="#433d84"/>
<circle cx="119.57" cy="170.74" r="1.12" fill="#3c508b"/>
<circle cx="156.76" cy="148.08" r="1.12" fill="#287d8e"/>
<circle cx="203.89" cy="102.04" r="1.12" fill="#6ece58"/>
<circle cx="124.53" cy="168.44" r="1.12" fill="#39558c"/>
<circle cx="195.37" cy="112.53" r="1.12" fill="#42be71"/>
<circle cx="108.36" cy="176.31" r="1.12" fill="#414487"/>
<circle cx="144.59" cy="156.90" r="1.12" fill="#2e6d8e"/>
<circle cx="20.32" cy="202.60" r="1.12" fill="#440154"/>
<circle cx="205.58" cy="100.44" r="1.12" fill="#77d153"/>
<circle cx="52.12" cy="195.71" r="1.12" fill="#481467"/>
<circle cx="175.29" cy="133.50" r="1.12" fill="#1f998a"/>
<circle cx="200.02" cy="107.55" r="1.12" fill="#58c765"/>
<circle cx="39.63" cy="198.89" r="1.12" fill="#460b5e"/>
<circle cx="162.13" cy="144.88" r="1.12" fill="#25848e"/>
<circle cx="65.82" cy="192.24" r="1.12" fill="#481f70"/>
<circle cx="37.97" cy="199.32" r="1.12" fill="#460b5e"/>
<circle cx="129.60" cy="166.42" r="1.12" fill="#375b8d"/>
<circle cx="44.03" cy="198.21" r="1.12" fill="#470e61"/>
<circle cx="189.70" cy="119.99" r="1.12" fill="#2eb37c"/>
<circle cx="114.16" cy="174.59" r="1.12" fill="#3e4989"/>
<circle cx="58.90" cy="194.56" r="1.12" fill="#481a6c"/>
<circle cx="75.14" cy="189.83" r="1.12" fill="#482576"/>
<circle cx="48.58" cy="197.33" r="1.12" fill="#471164"/>
<circle cx="187.26" cy="122.86" r="1.12" fill="#27ad81"/>
<circle cx="31.02" cy="201.31" r="1.12" fill="#46075a"/>
<circle cx="80.47" cy="188.21" r="1.12" fill="#472a7a"/>
<circle cx="137.89" cy="162.22" r="1.12" fill="#32648e"/>
<circle cx="182.23" cy="128.05" r="1.12" fill="#20a486"/>
<circle cx="68.22" cy="192.28" r="1.12" fill="#482071"/>
<circle cx="191.13" cy="119.11" r="1.12" fill="#31b57b"/>
<circle cx="214.42" cy="90.50" r="1.12" fill="#b0dd2f"/>
<circle cx="210.14" cy="96.62" r="1.12" fill="#90d743"/>
<circle cx="102.99" cy="180.55" r="1.12" fill="#433e85"/>
<circle cx="24.49" cy="203.43" r="1.12" fill="#440256"/>
<circle cx="91.11" cy="185.32" r="1.12" fill="#46337f"/>
<circle cx="115.21" cy="175.22" r="1.12" fill="#3e4a89"/>
<circle cx="96.08" cy="183.48" r="1.12" fill="#453882"/>
<circle cx="187.26" cy="124.12" r="1.12" fill="#26ad81"/>
<circle cx="216.38" cy="88.14" r="1.12" fill="#bddf26"/>
<circle cx="163.25" cy="145.90" r="1.12" fill="#25848e"/>
<circle cx="120.19" cy="173.00" r="1.12" fill="#3c508b"/>
<circle cx="127.09" cy="169.53" r="1.12" fill="#38588c"/>
<circle cx="110.88" cy="177.51" r="1.12" fill="#404688"/>
<circle cx="221.76" cy="80.23" r="1.12" fill="#e7e419"/>
<circle cx="69.76" cy="192.84" r="1.12" fill="#482173"/>
<circle cx="143.61" cy="160.09" r="1.12" fill="#2f6b8e"/>
<circle cx="54.88" cy="197.23" r="1.12" fill="#481668"/>
<circle cx="31.94" cy="202.57" r="1.12" fill="#46075a"/>
<circle cx="132.45" cy="167.09" r="1.12" fill="#365d8d"/>
<circle cx="210.17" cy="97.97" r="1.12" fill="#8bd646"/>
<circle cx="166.26" cy="144.28" r="1.12" fill="#23898e"/>
<circle cx="172.57" cy="139.01" r="1.12" fill="#20928c"/>
<circle cx="148.98" cy="157.27" r="1.12" fill="#2d718e"/>
<circle cx="38.38" cy="201.57" r="1.12" fill="#460a5d"/>
<circle cx="183.52" cy="129.38" r="1.12" fill="#21a585"/>
<circle cx="50.98" cy="198.80" r="1.12" fill="#471365"/>
<circle cx="171.53" cy="140.45" r="1.12" fill="#21918c"/>
<circle cx="128.70" cy="169.88" r="1.12" fill="#38598c"/>
<circle cx="87.27" cy="188.13" r="1.12" fill="#472f7d"/>
<circle cx="42.65" cy="201.05" r="1.12" fill="#470d60"/>
<circle cx="206.42" cy="104.09" r="1.12" fill="#70cf57"/>
<circle cx="219.68" cy="85.51" r="1.12" fill="#d0e11c"/>
<circle cx="157.57" cy="151.94" r="1.12" fill="#287c8e"/>
<circle cx="49.39" cy="199.64" r="1.12" fill="#471164"/>
<circle cx="28.68" cy="204.25" r="1.12" fill="#450457"/>
<circle cx="92.21" cy="186.89" r="1.12" fill="#46337f"/>
<circle cx="116.36" cy="176.74" r="1.12" fill="#3e4a89"/>
<circle cx="158.97" cy="151.35" r="1.12" fill="#287d8e"/>
<circle cx="79.42" cy="191.40" r="1.12" fill="#482878"/>
<circle cx="136.23" cy="166.36" r="1.12" fill="#34618d"/>
<circle cx="155.11" cy="154.23" r="1.12" fill="#2a788e"/>
<circle cx="197.88" cy="115.32" r="1.12" fill="#44bf70"/>
<circle cx="60.18" cy="197.29" r="1.12" fill="#481a6c"/>
<circle cx="77.48" cy="192.29" r="1.12" fill="#482677"/>
<circle cx="143.15" cy="162.45" r="1.12" fill="#30698e"/>
<circle cx="215.67" cy="92.64" r="1.12" fill="#addc30"/>
<circle cx="162.25" cy="149.37" r="1.12" fill="#26828e"/>
<circle cx="179.52" cy="134.98" r="1.12" fill="#1e9d89"/>
<circle cx="202.42" cy="110.57" r="1.12" fill="#58c765"/>
<circle cx="150.08" cy="158.34" r="1.12" fill="#2c718e"/>
<circle cx="82.56" cy="191.00" r="1.12" fill="#472a7a"/>
<circle cx="194.65" cy="119.89" r="1.12" fill="#37b878"/>
<circle cx="155.09" cy="155.42" r="1.12" fill="#2a778e"/>
<circle cx="68.68" cy="195.99" r="1.12" fill="#481f70"/>
<circle cx="226.44" cy="77.57" r="1.12" fill="#fde725"/>
<circle cx="67.01" cy="196.51" r="1.12" fill="#481d6f"/>
<circle cx="32.88" cy="205.05" r="1.12" fill="#46075a"/>
<circle cx="186.50" cy="129.41" r="1.12" fill="#22a884"/>
<circle cx="111.26" cy="180.76" r="1.12" fill="#404588"/>
<circle cx="189.22" cy="126.73" r="1.12" fill="#27ad81"/>
<circle cx="73.11" cy="195.09" r="1.12" fill="#482374"/>
<circle cx="101.92" cy="184.96" r="1.12" fill="#443b84"/>
<circle cx="103.58" cy="184.31" r="1.12" fill="#433d84"/>
<circle cx="198.16" cy="117.40" r="1.12" fill="#42be71"/>
<circle cx="94.98" cy="187.85" r="1.12" fill="#453581"/>
<circle cx="119.19" cy="177.54" r="1.12" fill="#3d4d8a"/>
<circle cx="163.38" cy="150.40" r="1.12" fill="#26828e"/>
<circle cx="211.03" cy="101.65" r="1.12" fill="#86d549"/>
<circle cx="126.12" cy="174.12" r="1.12" fill="#3a548c"/>
<circle cx="127.78" cy="173.34" r="1.12" fill="#39568c"/>
<circle cx="203.62" cy="111.44" r="1.12" fill="#5ac864"/>
<circle cx="108.03" cy="183.03" r="1.12" fill="#424186"/>
<circle cx="53.25" cy="201.35" r="1.12" fill="#481467"/>
<circle cx="224.04" cy="83.38" r="1.12" fill="#e7e419"/>
<circle cx="39.81" cy="204.56" r="1.12" fill="#460a5d"/>
<circle cx="151.31" cy="159.79" r="1.12" fill="#2c718e"/>
<circle cx="170.34" cy="145.58" r="1.12" fill="#228c8d"/>
<circle cx="58.33" cy="200.31" r="1.12" fill="#481769"/>
<circle cx="72.99" cy="196.18" r="1.12" fill="#482374"/>
<circle cx="132.25" cy="171.71" r="1.12" fill="#375b8d"/>
<circle cx="78.37" cy="194.60" r="1.12" fill="#482677"/>
<circle cx="62.98" cy="199.25" r="1.12" fill="#481b6d"/>
<circle cx="159.48" cy="154.57" r="1.12" fill="#287c8e"/>
<circle cx="140.34" cy="167.30" r="1.12" fill="#32648e"/>
<circle cx="190.39" cy="127.66" r="1.12" fill="#27ad81"/>
<circle cx="37.10" cy="205.84" r="1.12" fill="#46085c"/>
<circle cx="214.58" cy="98.67" r="1.12" fill="#9bd93c"/>
<circle cx="177.31" cy="140.47" r="1.12" fill="#1f968b"/>
<circle cx="136.85" cy="169.81" r="1.12" fill="#34608d"/>
<circle cx="96.01" cy="189.05" r="1.12" fill="#453581"/>
<circle cx="120.25" cy="178.69" r="1.12" fill="#3d4d8a"/>
<circle cx="210.68" cy="104.52" r="1.12" fill="#7fd34e"/>
<circle cx="89.06" cy="191.82" r="1.12" fill="#472f7d"/>
<circle cx="84.05" cy="193.56" r="1.12" fill="#472a7a"/>
<circle cx="221.64" cy="89.07" r="1.12" fill="#cde11d"/>
<circle cx="181.19" cy="137.50" r="1.12" fill="#1e9d89"/>
<circle cx="87.11" cy="192.75" r="1.12" fill="#472d7b"/>
<circle cx="102.50" cy="187.25" r="1.12" fill="#443b84"/>
<circle cx="197.42" cy="121.57" r="1.12" fill="#3aba76"/>
<circle cx="147.26" cy="164.49" r="1.12" fill="#2f6c8e"/>
<circle cx="126.76" cy="176.41" r="1.12" fill="#3a538b"/>
<circle cx="46.57" cy="205.02" r="1.12" fill="#470e61"/>
<circle cx="171.61" cy="146.98" r="1.12" fill="#228d8d"/>
<circle cx="154.22" cy="160.29" r="1.12" fill="#2b748e"/>
<circle cx="69.06" cy="199.36" r="1.12" fill="#481f70"/>
<circle cx="219.25" cy="94.65" r="1.12" fill="#b5de2b"/>
<circle cx="41.33" cy="206.61" r="1.12" fill="#460b5e"/>
<circle cx="173.03" cy="146.30" r="1.12" fill="#218f8d"/>
<circle cx="186.25" cy="134.34" r="1.12" fill="#20a486"/>
<circle cx="167.59" cy="150.95" r="1.12" fill="#24868e"/>
<circle cx="109.85" cy="185.23" r="1.12" fill="#424186"/>
<circle cx="131.10" cy="175.01" r="1.12" fill="#38598c"/>
<circle cx="52.11" cy="204.47" r="1.12" fill="#471365"/>
<circle cx="143.34" cy="168.30" r="1.12" fill="#31668e"/>
<circle cx="50.14" cy="205.25" r="1.12" fill="#471164"/>
<circle cx="202.65" cy="117.55" r="1.12" fill="#4cc26c"/>
<circle cx="156.71" cy="159.71" r="1.12" fill="#2a768e"/>
<circle cx="207.99" cy="111.05" r="1.12" fill="#67cc5c"/>
<circle cx="180.02" cy="141.11" r="1.12" fill="#1f998a"/>
<circle cx="139.46" cy="170.85" r="1.12" fill="#33628d"/>
<circle cx="178.47" cy="142.70" r="1.12" fill="#1f968b"/>
<circle cx="56.27" cy="204.04" r="1.12" fill="#481668"/>
<circle cx="137.90" cy="172.09" r="1.12" fill="#34608d"/>
<circle cx="115.71" cy="183.55" r="1.12" fill="#3f4788"/>
<circle cx="163.69" cy="155.20" r="1.12" fill="#27808e"/>
<circle cx="73.39" cy="199.56" r="1.12" fill="#482173"/>
<circle cx="198.75" cy="122.87" r="1.12" fill="#3bbb75"/>
<circle cx="216.85" cy="100.13" r="1.12" fill="#a0da39"/>
<circle cx="194.71" cy="127.64" r="1.12" fill="#2eb37c"/>
<circle cx="76.82" cy="198.87" r="1.12" fill="#482475"/>
<circle cx="45.57" cy="207.37" r="1.12" fill="#470d60"/>
<circle cx="200.19" cy="121.94" r="1.12" fill="#3fbc73"/>
<circle cx="158.36" cy="159.92" r="1.12" fill="#2a788e"/>
<circle cx="169.12" cy="151.91" r="1.12" fill="#24878e"/>
<circle cx="116.30" cy="184.32" r="1.12" fill="#3f4788"/>
<circle cx="64.81" cy="202.84" r="1.12" fill="#481b6d"/>
<circle cx="121.32" cy="182.14" r="1.12" fill="#3d4d8a"/>
<circle cx="104.03" cy="189.83" r="1.12" fill="#443b84"/>
<circle cx="189.25" cy="134.38" r="1.12" fill="#22a884"/>
<circle cx="99.93" cy="191.59" r="1.12" fill="#453882"/>
<circle cx="119.37" cy="183.25" r="1.12" fill="#3e4a89"/>
<circle cx="82.53" cy="197.86" r="1.12" fill="#482878"/>
<circle cx="112.40" cy="186.47" r="1.12" fill="#414487"/>
<circle cx="148.83" cy="167.13" r="1.12" fill="#2f6c8e"/>
<circle cx="184.31" cy="139.47" r="1.12" fill="#1f9f88"/>
<circle cx="209.61" cy="111.74" r="1.12" fill="#6ccd5a"/>
<circle cx="214.44" cy="105.52" r="1.12" fill="#89d548"/>
<circle cx="60.23" cy="204.75" r="1.12" fill="#481769"/>
<circle cx="110.83" cy="187.55" r="1.12" fill="#424186"/>
<circle cx="87.65" cy="196.53" r="1.12" fill="#472d7b"/>
<circle cx="128.51" cy="179.29" r="1.12" fill="#3a548c"/>
<circle cx="95.37" cy="193.87" r="1.12" fill="#46337f"/>
<circle cx="205.70" cy="117.31" r="1.12" fill="#56c667"/>
<circle cx="72.79" cy="201.71" r="1.12" fill="#482071"/>
<circle cx="127.07" cy="180.45" r="1.12" fill="#3b528b"/>
<circle cx="196.30" cy="128.45" r="1.12" fill="#2fb47c"/>
<circle cx="189.39" cy="135.63" r="1.12" fill="#22a785"/>
<circle cx="49.84" cy="208.10" r="1.12" fill="#471063"/>
<circle cx="65.79" cy="204.09" r="1.12" fill="#481b6d"/>
<circle cx="101.44" cy="192.69" r="1.12" fill="#453882"/>
<circle cx="212.04" cy="110.81" r="1.12" fill="#75d054"/>
<circle cx="142.04" cy="173.08" r="1.12" fill="#33638d"/>
<circle cx="180.02" cy="145.50" r="1.12" fill="#1f968b"/>
<circle cx="56.82" cy="207.18" r="1.12" fill="#481467"/>
<circle cx="155.84" cy="164.61" r="1.12" fill="#2c738e"/>
<circle cx="92.02" cy="196.58" r="1.12" fill="#472f7d"/>
<circle cx="157.53" cy="163.63" r="1.12" fill="#2b758e"/>
<circle cx="168.31" cy="155.72" r="1.12" fill="#25848e"/>
<circle cx="166.36" cy="157.24" r="1.12" fill="#26828e"/>
<circle cx="60.26" cy="206.61" r="1.12" fill="#481769"/>
<circle cx="76.63" cy="202.01" r="1.12" fill="#482374"/>
<circle cx="90.44" cy="197.56" r="1.12" fill="#472e7c"/>
<circle cx="95.47" cy="195.76" r="1.12" fill="#46327e"/>
<circle cx="147.20" cy="170.81" r="1.12" fill="#31688e"/>
<circle cx="185.10" cy="141.82" r="1.12" fill="#1f9e89"/>
<circle cx="197.50" cy="129.38" r="1.12" fill="#31b57b"/>
<circle cx="176.24" cy="149.81" r="1.12" fill="#21908d"/>
<circle cx="54.11" cy="208.82" r="1.12" fill="#471365"/>
<circle cx="162.05" cy="161.49" r="1.12" fill="#297b8e"/>
<circle cx="151.92" cy="168.57" r="1.12" fill="#2e6e8e"/>
<circle cx="135.50" cy="178.41" r="1.12" fill="#375b8d"/>
<circle cx="209.63" cy="116.02" r="1.12" fill="#63cb5f"/>
<circle cx="171.55" cy="154.38" r="1.12" fill="#23888e"/>
<circle cx="114.89" cy="188.86" r="1.12" fill="#404588"/>
<circle cx="107.90" cy="191.96" r="1.12" fill="#433e85"/>
<circle cx="192.15" cy="136.16" r="1.12" fill="#24aa83"/>
<circle cx="85.67" cy="200.45" r="1.12" fill="#482979"/>
<circle cx="181.32" cy="146.90" r="1.12" fill="#1f968b"/>
<circle cx="124.19" cy="185.06" r="1.12" fill="#3d4e8a"/>
<circle cx="120.04" cy="187.11" r="1.12" fill="#3e4989"/>
<circle cx="131.19" cy="181.59" r="1.12" fill="#39558c"/>
<circle cx="69.73" cy="205.77" r="1.12" fill="#481d6f"/>
<circle cx="162.03" cy="162.70" r="1.12" fill="#297a8e"/>
<circle cx="141.16" cy="176.65" r="1.12" fill="#34608d"/>
<circle cx="203.55" cy="125.19" r="1.12" fill="#42be71"/>
<circle cx="139.21" cy="177.91" r="1.12" fill="#355e8d"/>
<circle cx="207.22" cy="121.13" r="1.12" fill="#52c569"/>
<circle cx="58.40" cy="209.52" r="1.12" fill="#481668"/>
<circle cx="167.49" cy="159.53" r="1.12" fill="#26818e"/>
<circle cx="75.47" cy="204.86" r="1.12" fill="#482173"/>
<circle cx="80.89" cy="203.29" r="1.12" fill="#482576"/>
<circle cx="125.81" cy="185.47" r="1.12" fill="#3c4f8a"/>
<circle cx="200.29" cy="129.81" r="1.12" fill="#35b779"/>
<circle cx="109.05" cy="193.55" r="1.12" fill="#433e85"/>
<circle cx="145.41" cy="175.27" r="1.12" fill="#32658e"/>
<circle cx="64.27" cy="208.71" r="1.12" fill="#48186a"/>
<circle cx="87.44" cy="201.77" r="1.12" fill="#472a7a"/>
<circle cx="100.36" cy="197.15" r="1.12" fill="#453581"/>
<circle cx="158.23" cy="167.18" r="1.12" fill="#2b748e"/>
<circle cx="71.10" cy="207.08" r="1.12" fill="#481d6f"/>
<circle cx="98.40" cy="198.13" r="1.12" fill="#463480"/>
<circle cx="184.32" cy="147.08" r="1.12" fill="#1f9a8a"/>
<circle cx="204.80" cy="126.17" r="1.12" fill="#44bf70"/>
<circle cx="103.55" cy="196.63" r="1.12" fill="#453882"/>
<circle cx="173.34" cy="156.76" r="1.12" fill="#23888e"/>
<circle cx="81.90" cy="204.54" r="1.12" fill="#482576"/>
<circle cx="62.71" cy="210.20" r="1.12" fill="#481769"/>
<circle cx="94.08" cy="200.55" r="1.12" fill="#472f7d"/>
<circle cx="176.48" cy="154.97" r="1.12" fill="#228d8d"/>
<circle cx="178.44" cy="153.35" r="1.12" fill="#21908d"/>
<circle cx="191.40" cy="141.52" r="1.12" fill="#21a585"/>
<circle cx="118.16" cy="191.29" r="1.12" fill="#404688"/>
<circle cx="135.71" cy="182.71" r="1.12" fill="#38598c"/>
<circle cx="193.10" cy="140.21" r="1.12" fill="#22a884"/>
<circle cx="133.76" cy="183.91" r="1.12" fill="#39568c"/>
<circle cx="154.14" cy="171.98" r="1.12" fill="#2e6e8e"/>
<circle cx="162.75" cy="166.27" r="1.12" fill="#29798e"/>
<circle cx="149.57" cy="175.12" r="1.12" fill="#31688e"/>
<circle cx="185.51" cy="148.09" r="1.12" fill="#1f9a8a"/>
<circle cx="123.19" cy="189.69" r="1.12" fill="#3e4a89"/>
<circle cx="202.38" cy="131.12" r="1.12" fill="#38b977"/>
<circle cx="124.88" cy="188.95" r="1.12" fill="#3d4d8a"/>
<circle cx="107.97" cy="196.55" r="1.12" fill="#443b84"/>
<circle cx="138.93" cy="181.85" r="1.12" fill="#365c8d"/>
<circle cx="113.41" cy="194.55" r="1.12" fill="#424186"/>
<circle cx="166.27" cy="164.61" r="1.12" fill="#287d8e"/>
<circle cx="91.46" cy="203.33" r="1.12" fill="#472d7b"/>
<circle cx="67.03" cy="210.86" r="1.12" fill="#481a6c"/>
<circle cx="99.35" cy="200.50" r="1.12" fill="#46337f"/>
<circle cx="129.40" cy="187.44" r="1.12" fill="#3b518b"/>
<circle cx="83.01" cy="206.18" r="1.12" fill="#482576"/>
<circle cx="197.71" cy="137.18" r="1.12" fill="#29af7f"/>
<circle cx="146.27" cy="178.50" r="1.12" fill="#32648e"/>
<circle cx="75.96" cy="208.69" r="1.12" fill="#482071"/>
<circle cx="155.27" cy="173.10" r="1.12" fill="#2e6f8e"/>
<circle cx="77.37" cy="208.50" r="1.12" fill="#482173"/>
<circle cx="119.20" cy="193.06" r="1.12" fill="#404688"/>
<circle cx="95.51" cy="202.82" r="1.12" fill="#472f7d"/>
<circle cx="162.32" cy="168.77" r="1.12" fill="#2a778e"/>
<circle cx="192.21" cy="143.90" r="1.12" fill="#20a486"/>
<circle cx="149.78" cy="177.11" r="1.12" fill="#31688e"/>
<circle cx="199.95" cy="136.00" r="1.12" fill="#2eb37c"/>
<circle cx="129.35" cy="188.61" r="1.12" fill="#3c508b"/>
<circle cx="73.41" cy="210.23" r="1.12" fill="#481d6f"/>
<circle cx="114.48" cy="195.76" r="1.12" fill="#424186"/>
<circle cx="172.14" cy="161.93" r="1.12" fill="#25848e"/>
<circle cx="134.81" cy="186.26" r="1.12" fill="#39568c"/>
<circle cx="146.75" cy="179.67" r="1.12" fill="#32648e"/>
<circle cx="71.37" cy="211.49" r="1.12" fill="#481c6e"/>
<circle cx="85.81" cy="207.27" r="1.12" fill="#482878"/>
<circle cx="177.37" cy="158.99" r="1.12" fill="#228b8d"/>
<circle cx="78.75" cy="209.81" r="1.12" fill="#482173"/>
<circle cx="197.52" cy="140.81" r="1.12" fill="#26ad81"/>
<circle cx="166.35" cy="168.09" r="1.12" fill="#297b8e"/>
<circle cx="125.47" cy="192.47" r="1.12" fill="#3e4c8a"/>
<circle cx="94.38" cy="205.77" r="1.12" fill="#472e7c"/>
<circle cx="108.60" cy="200.44" r="1.12" fill="#443a83"/>
<circle cx="185.26" cy="153.67" r="1.12" fill="#1f968b"/>
<circle cx="138.96" cy="186.30" r="1.12" fill="#375a8c"/>
<circle cx="99.85" cy="203.99" r="1.12" fill="#46337f"/>
<circle cx="86.84" cy="208.53" r="1.12" fill="#482878"/>
<circle cx="189.86" cy="149.65" r="1.12" fill="#1f9e89"/>
<circle cx="110.02" cy="200.14" r="1.12" fill="#443b84"/>
<circle cx="159.52" cy="173.94" r="1.12" fill="#2c718e"/>
<circle cx="75.72" cy="212.11" r="1.12" fill="#481f70"/>
<circle cx="146.02" cy="182.50" r="1.12" fill="#33628d"/>
<circle cx="147.45" cy="182.04" r="1.12" fill="#33638d"/>
<circle cx="106.07" cy="202.19" r="1.12" fill="#453882"/>
<circle cx="195.08" cy="145.55" r="1.12" fill="#21a685"/>
<circle cx="181.97" cy="157.73" r="1.12" fill="#21918c"/>
<circle cx="154.12" cy="178.43" r="1.12" fill="#2f6b8e"/>
<circle cx="180.39" cy="159.29" r="1.12" fill="#218e8d"/>
<circle cx="129.95" cy="192.15" r="1.12" fill="#3c4f8a"/>
<circle cx="121.30" cy="196.64" r="1.12" fill="#404688"/>
<circle cx="165.40" cy="171.49" r="1.12" fill="#2a788e"/>
<circle cx="100.90" cy="205.23" r="1.12" fill="#46337f"/>
<circle cx="175.65" cy="163.88" r="1.12" fill="#24868e"/>
<circle cx="133.46" cy="190.99" r="1.12" fill="#3a538b"/>
<circle cx="105.99" cy="203.34" r="1.12" fill="#453882"/>
<circle cx="185.53" cy="155.75" r="1.12" fill="#1f958b"/>
<circle cx="93.82" cy="208.01" r="1.12" fill="#472d7b"/>
<circle cx="116.70" cy="199.17" r="1.12" fill="#424186"/>
<circle cx="161.06" cy="175.02" r="1.12" fill="#2c728e"/>
<circle cx="80.09" cy="212.70" r="1.12" fill="#482173"/>
<circle cx="86.74" cy="210.67" r="1.12" fill="#482677"/>
<circle cx="170.91" cy="168.33" r="1.12" fill="#27808e"/>
<circle cx="148.97" cy="183.17" r="1.12" fill="#32648e"/>
<circle cx="137.95" cy="189.49" r="1.12" fill="#38588c"/>
<circle cx="192.64" cy="150.22" r="1.12" fill="#1fa188"/>
<circle cx="143.44" cy="186.99" r="1.12" fill="#365d8d"/>
<circle cx="129.46" cy="194.51" r="1.12" fill="#3d4e8a"/>
<circle cx="122.39" cy="197.85" r="1.12" fill="#3f4788"/>
<circle cx="113.33" cy="202.10" r="1.12" fill="#433e85"/>
<circle cx="102.05" cy="206.88" r="1.12" fill="#46337f"/>
<circle cx="177.62" cy="164.83" r="1.12" fill="#23888e"/>
<circle cx="116.84" cy="201.13" r="1.12" fill="#424186"/>
<circle cx="172.08" cy="169.42" r="1.12" fill="#27808e"/>
<circle cx="150.10" cy="184.33" r="1.12" fill="#32648e"/>
<circle cx="84.48" cy="213.26" r="1.12" fill="#482475"/>
<circle cx="157.20" cy="180.24" r="1.12" fill="#2e6d8e"/>
<circle cx="190.19" cy="154.83" r="1.12" fill="#1e9b8a"/>
<circle cx="144.56" cy="188.16" r="1.12" fill="#355e8d"/>
<circle cx="90.80" cy="212.29" r="1.12" fill="#482979"/>
<circle cx="107.69" cy="206.38" r="1.12" fill="#453882"/>
<circle cx="166.26" cy="175.52" r="1.12" fill="#2a778e"/>
<circle cx="135.45" cy="194.27" r="1.12" fill="#3a538b"/>
<circle cx="184.48" cy="161.50" r="1.12" fill="#21918c"/>
<circle cx="104.91" cy="207.90" r="1.12" fill="#453581"/>
<circle cx="140.57" cy="191.85" r="1.12" fill="#38598c"/>
<circle cx="167.71" cy="174.95" r="1.12" fill="#29798e"/>
<circle cx="97.81" cy="210.73" r="1.12" fill="#472f7d"/>
<circle cx="88.88" cy="213.80" r="1.12" fill="#482878"/>
<circle cx="163.75" cy="177.84" r="1.12" fill="#2c738e"/>
<circle cx="173.38" cy="170.91" r="1.12" fill="#26818e"/>
<circle cx="126.55" cy="199.17" r="1.12" fill="#3e4989"/>
<circle cx="161.24" cy="179.72" r="1.12" fill="#2d718e"/>
<circle cx="187.73" cy="159.37" r="1.12" fill="#1f958b"/>
<circle cx="145.81" cy="189.73" r="1.12" fill="#355e8d"/>
<circle cx="115.87" cy="204.59" r="1.12" fill="#423f85"/>
<circle cx="108.76" cy="207.63" r="1.12" fill="#453882"/>
<circle cx="181.97" cy="165.37" r="1.12" fill="#228c8d"/>
<circle cx="154.36" cy="185.32" r="1.12" fill="#31688e"/>
<circle cx="121.09" cy="202.91" r="1.12" fill="#414487"/>
<circle cx="169.27" cy="176.02" r="1.12" fill="#29798e"/>
<circle cx="128.04" cy="200.40" r="1.12" fill="#3e4a89"/>
<circle cx="131.00" cy="198.99" r="1.12" fill="#3d4e8a"/>
<circle cx="93.30" cy="214.31" r="1.12" fill="#472a7a"/>
<circle cx="185.27" cy="163.86" r="1.12" fill="#21908d"/>
<circle cx="136.13" cy="196.66" r="1.12" fill="#3b528b"/>
<circle cx="143.24" cy="193.01" r="1.12" fill="#375b8d"/>
<circle cx="176.41" cy="171.33" r="1.12" fill="#26828e"/>
<circle cx="160.27" cy="183.08" r="1.12" fill="#2e6e8e"/>
<circle cx="148.77" cy="190.45" r="1.12" fill="#34608d"/>
<circle cx="117.06" cy="206.24" r="1.12" fill="#423f85"/>
<circle cx="118.49" cy="205.92" r="1.12" fill="#424086"/>
<circle cx="165.81" cy="180.13" r="1.12" fill="#2b748e"/>
<circle cx="99.25" cy="213.60" r="1.12" fill="#472f7d"/>
<circle cx="124.01" cy="203.83" r="1.12" fill="#404688"/>
<circle cx="144.92" cy="193.39" r="1.12" fill="#365c8d"/>
<circle cx="104.34" cy="212.33" r="1.12" fill="#46337f"/>
<circle cx="97.74" cy="214.80" r="1.12" fill="#472d7b"/>
<circle cx="112.90" cy="209.11" r="1.12" fill="#443a83"/>
<circle cx="177.59" cy="172.43" r="1.12" fill="#25838e"/>
<circle cx="182.79" cy="168.30" r="1.12" fill="#228b8d"/>
<circle cx="132.22" cy="200.61" r="1.12" fill="#3d4e8a"/>
<circle cx="152.70" cy="189.69" r="1.12" fill="#32648e"/>
<circle cx="159.83" cy="185.59" r="1.12" fill="#2f6c8e"/>
<circle cx="166.98" cy="181.26" r="1.12" fill="#2b748e"/>
<circle cx="172.15" cy="178.20" r="1.12" fill="#297b8e"/>
<circle cx="114.37" cy="210.39" r="1.12" fill="#443b84"/>
<circle cx="107.23" cy="213.37" r="1.12" fill="#463480"/>
<circle cx="102.20" cy="215.25" r="1.12" fill="#46307e"/>
<circle cx="180.31" cy="172.68" r="1.12" fill="#24868e"/>
<circle cx="135.16" cy="201.46" r="1.12" fill="#3c508b"/>
<circle cx="142.31" cy="197.87" r="1.12" fill="#38588c"/>
<circle cx="144.03" cy="197.04" r="1.12" fill="#38598c"/>
<circle cx="168.28" cy="182.80" r="1.12" fill="#2b758e"/>
<circle cx="148.64" cy="195.33" r="1.12" fill="#355e8d"/>
<circle cx="156.99" cy="190.70" r="1.12" fill="#31678e"/>
<circle cx="115.45" cy="211.66" r="1.12" fill="#443b84"/>
<circle cx="123.97" cy="208.29" r="1.12" fill="#414487"/>
<circle cx="153.39" cy="193.34" r="1.12" fill="#33638d"/>
<circle cx="129.13" cy="206.11" r="1.12" fill="#3e4989"/>
<circle cx="136.28" cy="202.68" r="1.12" fill="#3c508b"/>
<circle cx="177.83" cy="177.00" r="1.12" fill="#26818e"/>
<circle cx="106.67" cy="215.68" r="1.12" fill="#46337f"/>
<circle cx="127.13" cy="207.24" r="1.12" fill="#3f4788"/>
<circle cx="121.49" cy="210.05" r="1.12" fill="#424186"/>
<circle cx="164.13" cy="187.75" r="1.12" fill="#2e6f8e"/>
<circle cx="143.01" cy="200.29" r="1.12" fill="#39568c"/>
<circle cx="171.32" cy="183.34" r="1.12" fill="#2a778e"/>
<circle cx="147.49" cy="198.82" r="1.12" fill="#365c8d"/>
<circle cx="118.09" cy="213.03" r="1.12" fill="#433e85"/>
<circle cx="175.33" cy="181.28" r="1.12" fill="#287c8e"/>
<circle cx="111.16" cy="216.07" r="1.12" fill="#453781"/>
<circle cx="160.12" cy="191.77" r="1.12" fill="#306a8e"/>
<circle cx="156.12" cy="194.46" r="1.12" fill="#32658e"/>
<circle cx="154.52" cy="195.76" r="1.12" fill="#33638d"/>
<circle cx="122.57" cy="213.01" r="1.12" fill="#424086"/>
<circle cx="172.83" cy="185.52" r="1.12" fill="#2a788e"/>
<circle cx="140.49" cy="205.16" r="1.12" fill="#3b528b"/>
<circle cx="115.67" cy="216.43" r="1.12" fill="#443a83"/>
<circle cx="127.85" cy="211.28" r="1.12" fill="#404688"/>
<circle cx="165.81" cy="190.55" r="1.12" fill="#2e6f8e"/>
<circle cx="135.82" cy="207.92" r="1.12" fill="#3d4e8a"/>
<circle cx="144.87" cy="203.34" r="1.12" fill="#39568c"/>
<circle cx="158.84" cy="196.82" r="1.12" fill="#31668e"/>
<circle cx="132.43" cy="211.06" r="1.12" fill="#3e4989"/>
<circle cx="170.31" cy="189.71" r="1.12" fill="#2c738e"/>
<circle cx="120.20" cy="216.76" r="1.12" fill="#433e85"/>
<circle cx="130.81" cy="212.21" r="1.12" fill="#3f4788"/>
<circle cx="136.00" cy="209.96" r="1.12" fill="#3d4d8a"/>
<circle cx="164.17" cy="194.44" r="1.12" fill="#2f6c8e"/>
<circle cx="152.13" cy="202.43" r="1.12" fill="#355e8d"/>
<circle cx="125.95" cy="215.61" r="1.12" fill="#414287"/>
<circle cx="143.97" cy="207.02" r="1.12" fill="#3a548c"/>
<circle cx="141.96" cy="208.24" r="1.12" fill="#3b528b"/>
<circle cx="167.79" cy="193.86" r="1.12" fill="#2e6f8e"/>
<circle cx="124.74" cy="217.05" r="1.12" fill="#424186"/>
<circle cx="147.29" cy="206.20" r="1.12" fill="#38588c"/>
<circle cx="157.98" cy="200.60" r="1.12" fill="#33638d"/>
<circle cx="155.97" cy="201.92" r="1.12" fill="#34618d"/>
<circle cx="162.38" cy="199.15" r="1.12" fill="#31688e"/>
<circle cx="137.46" cy="213.05" r="1.12" fill="#3d4d8a"/>
<circle cx="151.92" cy="205.75" r="1.12" fill="#365c8d"/>
<circle cx="165.26" cy="197.96" r="1.12" fill="#2f6b8e"/>
<circle cx="143.07" cy="210.71" r="1.12" fill="#3b528b"/>
<circle cx="129.31" cy="217.30" r="1.12" fill="#404588"/>
<circle cx="134.75" cy="215.21" r="1.12" fill="#3e4989"/>
<circle cx="158.71" cy="204.34" r="1.12" fill="#33628d"/>
<circle cx="162.71" cy="202.03" r="1.12" fill="#31678e"/>
<circle cx="133.89" cy="217.52" r="1.12" fill="#3f4889"/>
<circle cx="145.48" cy="213.63" r="1.12" fill="#3a538b"/>
<circle cx="141.72" cy="215.63" r="1.12" fill="#3c4f8a"/>
<circle cx="152.74" cy="209.90" r="1.12" fill="#375b8d"/>
<circle cx="154.22" cy="209.46" r="1.12" fill="#365c8d"/>
<circle cx="160.16" cy="206.06" r="1.12" fill="#33638d"/>
<circle cx="138.50" cy="217.69" r="1.12" fill="#3e4c8a"/>
<circle cx="150.17" cy="212.00" r="1.12" fill="#38588c"/>
<circle cx="157.60" cy="210.06" r="1.12" fill="#355f8d"/>
<circle cx="143.12" cy="217.83" r="1.12" fill="#3c4f8a"/>
<circle cx="150.10" cy="214.50" r="1.12" fill="#39568c"/>
<circle cx="155.02" cy="214.03" r="1.12" fill="#375b8d"/>
<circle cx="147.77" cy="217.92" r="1.12" fill="#3a538b"/>
<circle cx="152.44" cy="217.96" r="1.12" fill="#39568c"/>
</g>
<line x1="5.37" y1="211.72" x2="156.56" y2="260.65" stroke="#000" stroke-width="0.95" stroke-linecap="square"/>
<line x1="156.56" y1="260.65" x2="236.40" y2="178.93" stroke="#000" stroke-width="0.95" stroke-linecap="square"/>
<line x1="236.40" y1="178.93" x2="241.56" y2="68.30" stroke="#000" stroke-width="0.95" stroke-linecap="square"/>
<line x1="12.96" y1="215.98" x2="15.67" y2="213.71" stroke="#000" stroke-width="0.9" stroke-linecap="butt"/>
<text x="7.16" y="238.11" text-anchor="middle" textLength="15.35" lengthAdjust="spacingAndGlyphs">0.0</text>
<line x1="38.38" y1="224.22" x2="41.04" y2="221.91" stroke="#000" stroke-width="0.9" stroke-linecap="butt"/>
<text x="32.58" y="246.51" text-anchor="middle" textLength="15.35" lengthAdjust="spacingAndGlyphs">0.2</text>
<line x1="64.27" y1="232.62" x2="66.89" y2="230.26" stroke="#000" stroke-width="0.9" stroke-linecap="butt"/>
<text x="58.48" y="255.06" text-anchor="middle" textLength="15.35" lengthAdjust="spacingAndGlyphs">0.4</text>
<line x1="90.67" y1="241.18" x2="93.24" y2="238.78" stroke="#000" stroke-width="0.9" stroke-linecap="butt"/>
<text x="84.88" y="263.78" text-anchor="middle" textLength="15.35" lengthAdjust="spacingAndGlyphs">0.6</text>
<line x1="117.58" y1="249.91" x2="120.10" y2="247.46" stroke="#000" stroke-width="0.9" stroke-linecap="butt"/>
<text x="111.80" y="272.67" text-anchor="middle" textLength="15.35" lengthAdjust="spacingAndGlyphs">0.8</text>
<line x1="145.02" y1="258.80" x2="147.49" y2="256.31" stroke="#000" stroke-width="0.9" stroke-linecap="butt"/>
<text x="139.25" y="281.73" text-anchor="middle" textLength="15.35" lengthAdjust="spacingAndGlyphs">1.0</text>
<line x1="164.65" y1="255.80" x2="160.20" y2="254.37" stroke="#000" stroke-width="0.9" stroke-linecap="butt"/>
<text x="175.09" y="276.62" text-anchor="middle" textLength="15.35" lengthAdjust="spacingAndGlyphs">0.0</text>
<line x1="179.48" y1="240.56" x2="175.08" y2="239.18" stroke="#000" stroke-width="0.9" stroke-linecap="butt"/>
<text x="189.75" y="261.19" text-anchor="middle" textLength="15.35" lengthAdjust="spacingAndGlyphs">0.2</text>
<line x1="193.82" y1="225.82" x2="189.47" y2="224.49" stroke="#000" stroke-width="0.9" stroke-linecap="butt"/>
<text x="203.92" y="246.25" text-anchor="middle" textLength="15.35" lengthAdjust="spacingAndGlyphs">0.4</text>
<line x1="207.70" y1="211.57" x2="203.40" y2="210.27" stroke="#000" stroke-width="0.9" stroke-linecap="butt"/>
<text x="217.64" y="231.81" text-anchor="middle" textLength="15.35" lengthAdjust="spacingAndGlyphs">0.6</text>
<line x1="221.14" y1="197.76" x2="216.88" y2="196.51" stroke="#000" stroke-width="0.9" stroke-linecap="butt"/>
<text x="230.92" y="217.82" text-anchor="middle" textLength="15.35" lengthAdjust="spacingAndGlyphs">0.8</text>
<line x1="234.15" y1="184.39" x2="229.94" y2="183.17" stroke="#000" stroke-width="0.9" stroke-linecap="butt"/>
<text x="243.78" y="204.27" text-anchor="middle" textLength="15.35" lengthAdjust="spacingAndGlyphs">1.0</text>
<line x1="239.12" y1="172.82" x2="234.92" y2="171.63" stroke="#000" stroke-width="0.9" stroke-linecap="butt"/>
<text x="255.09" y="177.58" text-anchor="middle" textLength="6.14" lengthAdjust="spacingAndGlyphs">1</text>
<line x1="239.81" y1="158.21" x2="235.59" y2="157.03" stroke="#000" stroke-width="0.9" stroke-linecap="butt"/>
<text x="255.88" y="163.01" text-anchor="middle" textLength="6.14" lengthAdjust="spacingAndGlyphs">2</text>
<line x1="240.52" y1="143.43" x2="236.26" y2="142.26" stroke="#000" stroke-width="0.9" stroke-linecap="butt"/>
<text x="256.67" y="148.26" text-anchor="middle" textLength="6.14" lengthAdjust="spacingAndGlyphs">3</text>
<line x1="241.23" y1="128.46" x2="236.95" y2="127.31" stroke="#000" stroke-width="0.9" stroke-linecap="butt"/>
<text x="257.48" y="133.34" text-anchor="middle" textLength="6.14" lengthAdjust="spacingAndGlyphs">4</text>
<line x1="241.95" y1="113.31" x2="237.64" y2="112.18" stroke="#000" stroke-width="0.9" stroke-linecap="butt"/>
<text x="258.29" y="118.23" text-anchor="middle" textLength="6.14" lengthAdjust="spacingAndGlyphs">5</text>
<line x1="242.68" y1="97.98" x2="238.35" y2="96.86" stroke="#000" stroke-width="0.9" stroke-linecap="butt"/>
<text x="259.11" y="102.94" text-anchor="middle" textLength="6.14" lengthAdjust="spacingAndGlyphs">6</text>
<line x1="243.42" y1="82.45" x2="239.06" y2="81.35" stroke="#000" stroke-width="0.9" stroke-linecap="butt"/>
<text x="259.95" y="87.46" text-anchor="middle" textLength="6.14" lengthAdjust="spacingAndGlyphs">7</text>
<g>
<circle cx="476.26" cy="122.70" r="1.12" fill="#4a0c6b"/>
<circle cx="460.94" cy="101.84" r="1.12" fill="#982766"/>
<circle cx="458.74" cy="116.56" r="1.12" fill="#67166e"/>
<circle cx="477.20" cy="122.01" r="1.12" fill="#540f6d"/>
<circle cx="458.31" cy="118.50" r="1.12" fill="#62146e"/>
<circle cx="464.91" cy="107.02" r="1.12" fill="#8a226a"/>
<circle cx="470.25" cy="114.80" r="1.12" fill="#721a6e"/>
<circle cx="469.47" cy="102.86" r="1.12" fill="#9b2964"/>
<circle cx="464.81" cy="109.75" r="1.12" fill="#87216b"/>
<circle cx="475.65" cy="126.00" r="1.12" fill="#540f6d"/>
<circle cx="470.01" cy="131.17" r="1.12" fill="#440a68"/>
<circle cx="483.64" cy="108.49" r="1.12" fill="#902568"/>
<circle cx="470.09" cy="112.62" r="1.12" fill="#84206b"/>
<circle cx="458.66" cy="113.25" r="1.12" fill="#82206c"/>
<circle cx="454.88" cy="112.54" r="1.12" fill="#85216b"/>
<circle cx="490.20" cy="115.71" r="1.12" fill="#7c1d6d"/>
<circle cx="484.30" cy="128.43" r="1.12" fill="#510e6c"/>
<circle cx="482.43" cy="122.48" r="1.12" fill="#65156e"/>
<circle cx="456.73" cy="116.35" r="1.12" fill="#7a1d6d"/>
<circle cx="492.86" cy="132.85" r="1.12" fill="#420a68"/>
<circle cx="479.19" cy="127.52" r="1.12" fill="#550f6d"/>
<circle cx="465.94" cy="116.92" r="1.12" fill="#7a1d6d"/>
<circle cx="496.61" cy="124.91" r="1.12" fill="#64156e"/>
<circle cx="450.66" cy="114.50" r="1.12" fill="#87216b"/>
<circle cx="502.99" cy="157.94" r="1.12" fill="#02010a"/>
<circle cx="506.16" cy="135.20" r="1.12" fill="#440a68"/>
<circle cx="473.40" cy="128.21" r="1.12" fill="#5c126e"/>
<circle cx="457.73" cy="116.83" r="1.12" fill="#82206c"/>
<circle cx="466.40" cy="124.86" r="1.12" fill="#67166e"/>
<circle cx="465.37" cy="119.55" r="1.12" fill="#7a1d6d"/>
<circle cx="462.07" cy="107.86" r="1.12" fill="#a22b62"/>
<circle cx="490.62" cy="122.80" r="1.12" fill="#71196e"/>
<circle cx="456.79" cy="124.21" r="1.12" fill="#6c186e"/>
<circle cx="475.14" cy="117.22" r="1.12" fill="#84206b"/>
<circle cx="464.27" cy="102.23" r="1.12" fill="#b63458"/>
<circle cx="480.05" cy="105.52" r="1.12" fill="#ab2f5e"/>
<circle cx="459.64" cy="122.11" r="1.12" fill="#751b6e"/>
<circle cx="481.82" cy="137.84" r="1.12" fill="#400a67"/>
<circle cx="475.80" cy="97.67" r="1.12" fill="#c43c4e"/>
<circle cx="494.76" cy="110.01" r="1.12" fill="#9f2a63"/>
<circle cx="464.45" cy="136.49" r="1.12" fill="#490b6a"/>
<circle cx="488.06" cy="118.79" r="1.12" fill="#84206b"/>
<circle cx="515.37" cy="132.92" r="1.12" fill="#540f6d"/>
<circle cx="449.55" cy="121.89" r="1.12" fill="#781c6d"/>
<circle cx="456.20" cy="131.41" r="1.12" fill="#5a116e"/>
<circle cx="491.55" cy="127.40" r="1.12" fill="#69166e"/>
<circle cx="486.15" cy="100.38" r="1.12" fill="#c13a50"/>
<circle cx="466.70" cy="132.96" r="1.12" fill="#57106e"/>
<circle cx="444.98" cy="122.23" r="1.12" fill="#7c1d6d"/>
<circle cx="467.67" cy="125.38" r="1.12" fill="#721a6e"/>
<circle cx="513.52" cy="128.78" r="1.12" fill="#67166e"/>
<circle cx="486.26" cy="112.22" r="1.12" fill="#9f2a63"/>
<circle cx="472.02" cy="122.24" r="1.12" fill="#7d1e6d"/>
<circle cx="494.16" cy="135.49" r="1.12" fill="#510e6c"/>
<circle cx="444.60" cy="128.09" r="1.12" fill="#6a176e"/>
<circle cx="483.99" cy="137.49" r="1.12" fill="#4c0c6b"/>
<circle cx="475.39" cy="136.97" r="1.12" fill="#4f0d6c"/>
<circle cx="505.47" cy="109.06" r="1.12" fill="#ab2f5e"/>
<circle cx="475.03" cy="129.85" r="1.12" fill="#67166e"/>
<circle cx="482.57" cy="125.94" r="1.12" fill="#741a6e"/>
<circle cx="520.43" cy="122.51" r="1.12" fill="#801f6c"/>
<circle cx="453.49" cy="108.40" r="1.12" fill="#ae305c"/>
<circle cx="478.32" cy="129.64" r="1.12" fill="#69166e"/>
<circle cx="472.45" cy="129.07" r="1.12" fill="#6c186e"/>
<circle cx="510.07" cy="112.95" r="1.12" fill="#a22b62"/>
<circle cx="502.19" cy="104.61" r="1.12" fill="#bc3754"/>
<circle cx="501.66" cy="114.46" r="1.12" fill="#9d2964"/>
<circle cx="478.60" cy="112.60" r="1.12" fill="#a32c61"/>
<circle cx="490.75" cy="130.41" r="1.12" fill="#69166e"/>
<circle cx="528.09" cy="132.70" r="1.12" fill="#61136e"/>
<circle cx="459.76" cy="118.52" r="1.12" fill="#902568"/>
<circle cx="509.50" cy="124.42" r="1.12" fill="#7f1e6c"/>
<circle cx="498.75" cy="105.11" r="1.12" fill="#bf3952"/>
<circle cx="464.27" cy="147.23" r="1.12" fill="#320a5e"/>
<circle cx="515.78" cy="137.84" r="1.12" fill="#540f6d"/>
<circle cx="450.11" cy="108.21" r="1.12" fill="#b63458"/>
<circle cx="494.71" cy="133.10" r="1.12" fill="#64156e"/>
<circle cx="512.99" cy="120.81" r="1.12" fill="#8d2369"/>
<circle cx="478.71" cy="136.53" r="1.12" fill="#59106e"/>
<circle cx="455.13" cy="126.47" r="1.12" fill="#7a1d6d"/>
<circle cx="505.76" cy="138.79" r="1.12" fill="#520e6d"/>
<circle cx="486.97" cy="126.63" r="1.12" fill="#7c1d6d"/>
<circle cx="494.38" cy="134.22" r="1.12" fill="#62146e"/>
<circle cx="540.74" cy="139.00" r="1.12" fill="#520e6d"/>
<circle cx="536.09" cy="137.47" r="1.12" fill="#59106e"/>
<circle cx="467.07" cy="133.13" r="1.12" fill="#67166e"/>
<circle cx="496.92" cy="112.81" r="1.12" fill="#ab2f5e"/>
<circle cx="507.00" cy="129.85" r="1.12" fill="#741a6e"/>
<circle cx="500.11" cy="123.35" r="1.12" fill="#88226a"/>
<circle cx="486.91" cy="129.34" r="1.12" fill="#751b6e"/>
<circle cx="470.48" cy="129.34" r="1.12" fill="#771c6d"/>
<circle cx="548.24" cy="143.37" r="1.12" fill="#490b6a"/>
<circle cx="492.86" cy="144.66" r="1.12" fill="#440a68"/>
<circle cx="512.85" cy="131.27" r="1.12" fill="#71196e"/>
<circle cx="450.98" cy="121.83" r="1.12" fill="#902568"/>
<circle cx="525.09" cy="125.21" r="1.12" fill="#85216b"/>
<circle cx="525.52" cy="141.45" r="1.12" fill="#4f0d6c"/>
<circle cx="458.81" cy="121.28" r="1.12" fill="#922568"/>
<circle cx="534.88" cy="139.76" r="1.12" fill="#550f6d"/>
<circle cx="493.14" cy="148.46" r="1.12" fill="#380962"/>
<circle cx="438.19" cy="135.16" r="1.12" fill="#65156e"/>
<circle cx="523.23" cy="132.05" r="1.12" fill="#71196e"/>
<circle cx="470.98" cy="133.80" r="1.12" fill="#6c186e"/>
<circle cx="502.34" cy="134.89" r="1.12" fill="#69166e"/>
<circle cx="511.58" cy="141.00" r="1.12" fill="#550f6d"/>
<circle cx="458.49" cy="111.87" r="1.12" fill="#b43359"/>
<circle cx="483.67" cy="124.47" r="1.12" fill="#8c2369"/>
<circle cx="532.72" cy="119.04" r="1.12" fill="#9d2964"/>
<circle cx="470.64" cy="135.43" r="1.12" fill="#69166e"/>
<circle cx="486.58" cy="138.02" r="1.12" fill="#5f136e"/>
<circle cx="530.56" cy="139.04" r="1.12" fill="#5c126e"/>
<circle cx="483.15" cy="136.86" r="1.12" fill="#64156e"/>
<circle cx="521.68" cy="124.84" r="1.12" fill="#8c2369"/>
<circle cx="441.50" cy="117.25" r="1.12" fill="#a52c60"/>
<circle cx="447.41" cy="117.00" r="1.12" fill="#a52c60"/>
<circle cx="460.18" cy="126.63" r="1.12" fill="#87216b"/>
<circle cx="536.76" cy="138.68" r="1.12" fill="#5f136e"/>
<circle cx="459.89" cy="132.75" r="1.12" fill="#721a6e"/>
<circle cx="441.30" cy="127.23" r="1.12" fill="#84206b"/>
<circle cx="487.93" cy="124.26" r="1.12" fill="#8f2469"/>
<circle cx="529.59" cy="142.76" r="1.12" fill="#520e6d"/>
<circle cx="445.76" cy="125.31" r="1.12" fill="#8c2369"/>
<circle cx="503.72" cy="107.77" r="1.12" fill="#c43c4e"/>
<circle cx="454.85" cy="132.38" r="1.12" fill="#751b6e"/>
<circle cx="444.77" cy="115.53" r="1.12" fill="#ad305d"/>
<circle cx="477.68" cy="137.47" r="1.12" fill="#65156e"/>
<circle cx="449.16" cy="136.05" r="1.12" fill="#6a176e"/>
<circle cx="485.52" cy="136.65" r="1.12" fill="#69166e"/>
<circle cx="449.64" cy="146.82" r="1.12" fill="#470b6a"/>
<circle cx="455.74" cy="143.10" r="1.12" fill="#540f6d"/>
<circle cx="498.28" cy="129.68" r="1.12" fill="#801f6c"/>
<circle cx="445.59" cy="123.76" r="1.12" fill="#952667"/>
<circle cx="462.74" cy="140.96" r="1.12" fill="#5d126e"/>
<circle cx="487.43" cy="139.44" r="1.12" fill="#62146e"/>
<circle cx="555.21" cy="145.55" r="1.12" fill="#4f0d6c"/>
<circle cx="544.13" cy="136.87" r="1.12" fill="#6c186e"/>
<circle cx="476.63" cy="129.54" r="1.12" fill="#84206b"/>
<circle cx="436.06" cy="132.90" r="1.12" fill="#781c6d"/>
<circle cx="527.40" cy="136.90" r="1.12" fill="#6c186e"/>
<circle cx="442.37" cy="147.57" r="1.12" fill="#490b6a"/>
<circle cx="500.96" cy="147.47" r="1.12" fill="#4a0c6b"/>
<circle cx="511.32" cy="137.53" r="1.12" fill="#6c186e"/>
<circle cx="514.19" cy="136.38" r="1.12" fill="#6f196e"/>
<circle cx="453.75" cy="131.19" r="1.12" fill="#801f6c"/>
<circle cx="463.09" cy="116.69" r="1.12" fill="#b0315b"/>
<circle cx="447.73" cy="136.21" r="1.12" fill="#721a6e"/>
<circle cx="528.54" cy="138.50" r="1.12" fill="#6c186e"/>
<circle cx="504.31" cy="138.10" r="1.12" fill="#6d186e"/>
<circle cx="514.86" cy="156.33" r="1.12" fill="#2f0a5b"/>
<circle cx="431.38" cy="128.89" r="1.12" fill="#8c2369"/>
<circle cx="543.14" cy="122.44" r="1.12" fill="#a02a63"/>
<circle cx="469.00" cy="135.46" r="1.12" fill="#771c6d"/>
<circle cx="477.21" cy="135.98" r="1.12" fill="#751b6e"/>
<circle cx="452.65" cy="151.14" r="1.12" fill="#440a68"/>
<circle cx="434.33" cy="122.21" r="1.12" fill="#a32c61"/>
<circle cx="493.37" cy="144.21" r="1.12" fill="#5a116e"/>
<circle cx="540.20" cy="139.22" r="1.12" fill="#6c186e"/>
<circle cx="496.58" cy="139.90" r="1.12" fill="#6a176e"/>
<circle cx="467.49" cy="156.11" r="1.12" fill="#340a5f"/>
<circle cx="461.17" cy="133.39" r="1.12" fill="#801f6c"/>
<circle cx="546.32" cy="138.97" r="1.12" fill="#6d186e"/>
<circle cx="456.70" cy="139.55" r="1.12" fill="#6c186e"/>
<circle cx="484.47" cy="147.82" r="1.12" fill="#510e6c"/>
<circle cx="453.48" cy="115.75" r="1.12" fill="#ba3655"/>
<circle cx="504.55" cy="149.83" r="1.12" fill="#4c0c6b"/>
<circle cx="481.29" cy="132.93" r="1.12" fill="#82206c"/>
<circle cx="533.86" cy="144.95" r="1.12" fill="#5c126e"/>
<circle cx="471.06" cy="136.16" r="1.12" fill="#781c6d"/>
<circle cx="520.81" cy="155.07" r="1.12" fill="#390963"/>
<circle cx="518.11" cy="125.12" r="1.12" fill="#9d2964"/>
<circle cx="438.18" cy="129.84" r="1.12" fill="#8d2369"/>
<circle cx="530.37" cy="148.71" r="1.12" fill="#510e6c"/>
<circle cx="512.20" cy="112.11" r="1.12" fill="#c63d4d"/>
<circle cx="552.43" cy="152.59" r="1.12" fill="#440a68"/>
<circle cx="561.90" cy="151.63" r="1.12" fill="#470b6a"/>
<circle cx="523.61" cy="133.66" r="1.12" fill="#82206c"/>
<circle cx="537.23" cy="144.88" r="1.12" fill="#5d126e"/>
<circle cx="443.18" cy="131.23" r="1.12" fill="#8a226a"/>
<circle cx="430.41" cy="135.50" r="1.12" fill="#7c1d6d"/>
<circle cx="519.06" cy="106.51" r="1.12" fill="#d54a41"/>
<circle cx="508.68" cy="138.71" r="1.12" fill="#721a6e"/>
<circle cx="552.24" cy="129.40" r="1.12" fill="#922568"/>
<circle cx="465.53" cy="144.82" r="1.12" fill="#5f136e"/>
<circle cx="446.16" cy="153.78" r="1.12" fill="#420a68"/>
<circle cx="558.43" cy="150.88" r="1.12" fill="#4c0c6b"/>
<circle cx="560.98" cy="128.20" r="1.12" fill="#972766"/>
<circle cx="501.19" cy="128.90" r="1.12" fill="#932667"/>
<circle cx="543.53" cy="132.98" r="1.12" fill="#87216b"/>
<circle cx="477.71" cy="131.73" r="1.12" fill="#8c2369"/>
<circle cx="519.00" cy="107.87" r="1.12" fill="#d44842"/>
<circle cx="429.72" cy="146.43" r="1.12" fill="#5c126e"/>
<circle cx="511.59" cy="134.63" r="1.12" fill="#84206b"/>
<circle cx="464.47" cy="138.02" r="1.12" fill="#781c6d"/>
<circle cx="467.79" cy="141.26" r="1.12" fill="#6d186e"/>
<circle cx="517.57" cy="133.98" r="1.12" fill="#85216b"/>
<circle cx="455.69" cy="142.38" r="1.12" fill="#6a176e"/>
<circle cx="435.78" cy="139.80" r="1.12" fill="#741a6e"/>
<circle cx="498.85" cy="152.64" r="1.12" fill="#4a0c6b"/>
<circle cx="570.01" cy="145.69" r="1.12" fill="#61136e"/>
<circle cx="521.10" cy="131.69" r="1.12" fill="#8f2469"/>
<circle cx="439.75" cy="131.82" r="1.12" fill="#8f2469"/>
<circle cx="440.83" cy="137.17" r="1.12" fill="#7d1e6d"/>
<circle cx="555.33" cy="134.84" r="1.12" fill="#85216b"/>
<circle cx="426.42" cy="132.09" r="1.12" fill="#8f2469"/>
<circle cx="486.88" cy="142.43" r="1.12" fill="#6d186e"/>
<circle cx="566.26" cy="142.82" r="1.12" fill="#6c186e"/>
<circle cx="504.79" cy="119.18" r="1.12" fill="#b93556"/>
<circle cx="481.80" cy="148.75" r="1.12" fill="#5a116e"/>
<circle cx="510.57" cy="151.01" r="1.12" fill="#540f6d"/>
<circle cx="473.15" cy="133.02" r="1.12" fill="#8d2369"/>
<circle cx="547.21" cy="148.92" r="1.12" fill="#5a116e"/>
<circle cx="538.40" cy="143.75" r="1.12" fill="#6c186e"/>
<circle cx="556.04" cy="144.52" r="1.12" fill="#69166e"/>
<circle cx="533.52" cy="143.85" r="1.12" fill="#6a176e"/>
<circle cx="539.53" cy="152.37" r="1.12" fill="#4f0d6c"/>
<circle cx="488.55" cy="126.77" r="1.12" fill="#a22b62"/>
<circle cx="449.36" cy="146.06" r="1.12" fill="#65156e"/>
<circle cx="503.69" cy="152.61" r="1.12" fill="#4f0d6c"/>
<circle cx="526.96" cy="142.94" r="1.12" fill="#6f196e"/>
<circle cx="578.51" cy="147.97" r="1.12" fill="#5f136e"/>
<circle cx="553.56" cy="122.95" r="1.12" fill="#b0315b"/>
<circle cx="546.96" cy="135.67" r="1.12" fill="#87216b"/>
<circle cx="536.38" cy="128.02" r="1.12" fill="#a02a63"/>
<circle cx="521.84" cy="122.49" r="1.12" fill="#b1325a"/>
<circle cx="445.44" cy="153.31" r="1.12" fill="#4f0d6c"/>
<circle cx="433.05" cy="137.36" r="1.12" fill="#82206c"/>
<circle cx="503.32" cy="143.45" r="1.12" fill="#6f196e"/>
<circle cx="571.68" cy="149.47" r="1.12" fill="#5c126e"/>
<circle cx="470.59" cy="150.82" r="1.12" fill="#59106e"/>
<circle cx="482.73" cy="178.55" r="1.12" fill="#040312"/>
<circle cx="480.28" cy="137.00" r="1.12" fill="#85216b"/>
<circle cx="567.32" cy="125.82" r="1.12" fill="#a92e5e"/>
<circle cx="509.80" cy="136.04" r="1.12" fill="#88226a"/>
<circle cx="450.29" cy="151.10" r="1.12" fill="#57106e"/>
<circle cx="482.07" cy="149.49" r="1.12" fill="#5d126e"/>
<circle cx="438.80" cy="151.60" r="1.12" fill="#57106e"/>
<circle cx="516.23" cy="148.00" r="1.12" fill="#62146e"/>
<circle cx="456.41" cy="175.78" r="1.12" fill="#09061f"/>
<circle cx="493.91" cy="155.63" r="1.12" fill="#4a0c6b"/>
<circle cx="563.22" cy="159.13" r="1.12" fill="#3d0965"/>
<circle cx="574.80" cy="147.11" r="1.12" fill="#65156e"/>
<circle cx="532.17" cy="162.28" r="1.12" fill="#320a5e"/>
<circle cx="433.64" cy="130.74" r="1.12" fill="#9b2964"/>
<circle cx="524.08" cy="138.41" r="1.12" fill="#82206c"/>
<circle cx="459.09" cy="154.23" r="1.12" fill="#4f0d6c"/>
<circle cx="546.56" cy="142.86" r="1.12" fill="#751b6e"/>
<circle cx="556.30" cy="151.17" r="1.12" fill="#5a116e"/>
<circle cx="564.29" cy="163.55" r="1.12" fill="#310a5c"/>
<circle cx="519.31" cy="160.65" r="1.12" fill="#3b0964"/>
<circle cx="495.55" cy="148.42" r="1.12" fill="#64156e"/>
<circle cx="474.10" cy="146.66" r="1.12" fill="#69166e"/>
<circle cx="478.24" cy="145.36" r="1.12" fill="#6d186e"/>
<circle cx="557.23" cy="145.26" r="1.12" fill="#6d186e"/>
<circle cx="551.56" cy="148.78" r="1.12" fill="#64156e"/>
<circle cx="570.12" cy="127.73" r="1.12" fill="#a82e5f"/>
<circle cx="497.89" cy="146.08" r="1.12" fill="#6d186e"/>
<circle cx="467.92" cy="147.33" r="1.12" fill="#69166e"/>
<circle cx="486.56" cy="155.23" r="1.12" fill="#4f0d6c"/>
<circle cx="458.25" cy="151.93" r="1.12" fill="#5a116e"/>
<circle cx="574.88" cy="148.89" r="1.12" fill="#64156e"/>
<circle cx="582.30" cy="139.64" r="1.12" fill="#82206c"/>
<circle cx="532.06" cy="153.33" r="1.12" fill="#550f6d"/>
<circle cx="545.15" cy="155.11" r="1.12" fill="#510e6c"/>
<circle cx="551.54" cy="156.52" r="1.12" fill="#4c0c6b"/>
<circle cx="582.85" cy="147.68" r="1.12" fill="#69166e"/>
<circle cx="544.76" cy="158.44" r="1.12" fill="#450a69"/>
<circle cx="426.58" cy="161.29" r="1.12" fill="#3d0965"/>
<circle cx="432.64" cy="144.47" r="1.12" fill="#751b6e"/>
<circle cx="489.89" cy="123.25" r="1.12" fill="#b93556"/>
<circle cx="464.52" cy="142.75" r="1.12" fill="#7a1d6d"/>
<circle cx="426.69" cy="140.54" r="1.12" fill="#82206c"/>
<circle cx="463.18" cy="156.49" r="1.12" fill="#4f0d6c"/>
<circle cx="523.34" cy="146.66" r="1.12" fill="#6f196e"/>
<circle cx="533.08" cy="165.55" r="1.12" fill="#2f0a5b"/>
<circle cx="508.47" cy="153.78" r="1.12" fill="#57106e"/>
<circle cx="576.03" cy="148.35" r="1.12" fill="#69166e"/>
<circle cx="434.85" cy="158.17" r="1.12" fill="#490b6a"/>
<circle cx="493.86" cy="134.14" r="1.12" fill="#972766"/>
<circle cx="566.63" cy="148.29" r="1.12" fill="#6a176e"/>
<circle cx="542.46" cy="145.91" r="1.12" fill="#721a6e"/>
<circle cx="539.30" cy="160.83" r="1.12" fill="#420a68"/>
<circle cx="565.45" cy="144.80" r="1.12" fill="#751b6e"/>
<circle cx="423.24" cy="126.63" r="1.12" fill="#b1325a"/>
<circle cx="528.89" cy="137.10" r="1.12" fill="#8f2469"/>
<circle cx="582.69" cy="146.09" r="1.12" fill="#721a6e"/>
<circle cx="458.40" cy="123.59" r="1.12" fill="#ba3655"/>
<circle cx="447.13" cy="158.58" r="1.12" fill="#4a0c6b"/>
<circle cx="486.50" cy="154.69" r="1.12" fill="#57106e"/>
<circle cx="502.38" cy="158.99" r="1.12" fill="#4a0c6b"/>
<circle cx="535.72" cy="146.31" r="1.12" fill="#741a6e"/>
<circle cx="468.85" cy="148.69" r="1.12" fill="#6c186e"/>
<circle cx="571.83" cy="142.86" r="1.12" fill="#7f1e6c"/>
<circle cx="442.19" cy="133.97" r="1.12" fill="#9b2964"/>
<circle cx="557.37" cy="151.28" r="1.12" fill="#64156e"/>
<circle cx="451.23" cy="147.63" r="1.12" fill="#71196e"/>
<circle cx="515.07" cy="143.42" r="1.12" fill="#7d1e6d"/>
<circle cx="435.59" cy="139.16" r="1.12" fill="#8c2369"/>
<circle cx="438.92" cy="161.78" r="1.12" fill="#420a68"/>
<circle cx="500.46" cy="166.08" r="1.12" fill="#340a5f"/>
<circle cx="458.66" cy="131.93" r="1.12" fill="#a32c61"/>
<circle cx="448.01" cy="124.08" r="1.12" fill="#bc3754"/>
<circle cx="494.47" cy="151.60" r="1.12" fill="#64156e"/>
<circle cx="478.10" cy="154.95" r="1.12" fill="#5a116e"/>
<circle cx="440.27" cy="144.92" r="1.12" fill="#7a1d6d"/>
<circle cx="567.71" cy="167.39" r="1.12" fill="#310a5c"/>
<circle cx="456.66" cy="157.88" r="1.12" fill="#510e6c"/>
<circle cx="539.96" cy="141.35" r="1.12" fill="#87216b"/>
<circle cx="490.43" cy="141.76" r="1.12" fill="#85216b"/>
<circle cx="557.36" cy="155.98" r="1.12" fill="#59106e"/>
<circle cx="495.49" cy="165.88" r="1.12" fill="#380962"/>
<circle cx="434.39" cy="144.45" r="1.12" fill="#7d1e6d"/>
<circle cx="505.86" cy="139.26" r="1.12" fill="#8f2469"/>
<circle cx="479.07" cy="120.79" r="1.12" fill="#c83f4b"/>
<circle cx="571.49" cy="149.71" r="1.12" fill="#6d186e"/>
<circle cx="476.89" cy="148.76" r="1.12" fill="#721a6e"/>
<circle cx="421.95" cy="140.80" r="1.12" fill="#8c2369"/>
<circle cx="423.07" cy="149.46" r="1.12" fill="#6f196e"/>
<circle cx="483.48" cy="142.49" r="1.12" fill="#87216b"/>
<circle cx="527.61" cy="153.94" r="1.12" fill="#62146e"/>
<circle cx="541.02" cy="151.83" r="1.12" fill="#69166e"/>
<circle cx="504.37" cy="157.56" r="1.12" fill="#57106e"/>
<circle cx="467.89" cy="146.64" r="1.12" fill="#7a1d6d"/>
<circle cx="514.44" cy="154.90" r="1.12" fill="#5f136e"/>
<circle cx="533.18" cy="162.95" r="1.12" fill="#450a69"/>
<circle cx="430.65" cy="156.39" r="1.12" fill="#5a116e"/>
<circle cx="575.03" cy="150.27" r="1.12" fill="#6f196e"/>
<circle cx="451.16" cy="149.12" r="1.12" fill="#721a6e"/>
<circle cx="453.81" cy="147.31" r="1.12" fill="#781c6d"/>
<circle cx="554.54" cy="187.77" r="1.12" fill="#010108"/>
<circle cx="511.92" cy="136.09" r="1.12" fill="#9d2964"/>
<circle cx="498.15" cy="160.04" r="1.12" fill="#4f0d6c"/>
<circle cx="443.42" cy="150.18" r="1.12" fill="#6f196e"/>
<circle cx="578.44" cy="156.84" r="1.12" fill="#5a116e"/>
<circle cx="450.60" cy="161.12" r="1.12" fill="#4d0d6c"/>
<circle cx="491.52" cy="113.95" r="1.12" fill="#de5238"/>
<circle cx="527.71" cy="141.89" r="1.12" fill="#8c2369"/>
<circle cx="489.51" cy="167.94" r="1.12" fill="#360961"/>
<circle cx="486.16" cy="159.72" r="1.12" fill="#520e6d"/>
<circle cx="427.51" cy="139.00" r="1.12" fill="#952667"/>
<circle cx="514.28" cy="168.34" r="1.12" fill="#360961"/>
<circle cx="521.23" cy="149.13" r="1.12" fill="#741a6e"/>
<circle cx="563.57" cy="152.27" r="1.12" fill="#6a176e"/>
<circle cx="520.82" cy="152.85" r="1.12" fill="#69166e"/>
<circle cx="420.98" cy="124.90" r="1.12" fill="#c33b4f"/>
<circle cx="581.61" cy="147.78" r="1.12" fill="#7a1d6d"/>
<circle cx="514.92" cy="141.52" r="1.12" fill="#8f2469"/>
<circle cx="506.50" cy="159.50" r="1.12" fill="#550f6d"/>
<circle cx="462.98" cy="150.13" r="1.12" fill="#741a6e"/>
<circle cx="574.37" cy="157.79" r="1.12" fill="#5c126e"/>
<circle cx="483.18" cy="141.90" r="1.12" fill="#8f2469"/>
<circle cx="494.17" cy="143.05" r="1.12" fill="#8c2369"/>
<circle cx="462.62" cy="163.10" r="1.12" fill="#4c0c6b"/>
<circle cx="546.13" cy="157.77" r="1.12" fill="#5d126e"/>
<circle cx="509.55" cy="162.06" r="1.12" fill="#510e6c"/>
<circle cx="536.34" cy="165.42" r="1.12" fill="#450a69"/>
<circle cx="452.04" cy="154.74" r="1.12" fill="#69166e"/>
<circle cx="546.74" cy="161.77" r="1.12" fill="#520e6d"/>
<circle cx="468.52" cy="156.29" r="1.12" fill="#64156e"/>
<circle cx="474.86" cy="144.57" r="1.12" fill="#8a226a"/>
<circle cx="438.57" cy="155.83" r="1.12" fill="#65156e"/>
<circle cx="485.30" cy="165.85" r="1.12" fill="#450a69"/>
<circle cx="416.74" cy="139.07" r="1.12" fill="#9b2964"/>
<circle cx="432.10" cy="153.34" r="1.12" fill="#6f196e"/>
<circle cx="539.35" cy="163.65" r="1.12" fill="#4d0d6c"/>
<circle cx="521.45" cy="154.51" r="1.12" fill="#6c186e"/>
<circle cx="475.87" cy="148.90" r="1.12" fill="#7d1e6d"/>
<circle cx="544.02" cy="171.01" r="1.12" fill="#360961"/>
<circle cx="408.86" cy="150.57" r="1.12" fill="#781c6d"/>
<circle cx="543.59" cy="157.73" r="1.12" fill="#62146e"/>
<circle cx="431.65" cy="156.56" r="1.12" fill="#65156e"/>
<circle cx="487.54" cy="138.13" r="1.12" fill="#a22b62"/>
<circle cx="444.20" cy="154.89" r="1.12" fill="#6c186e"/>
<circle cx="523.86" cy="165.67" r="1.12" fill="#490b6a"/>
<circle cx="570.70" cy="154.35" r="1.12" fill="#6d186e"/>
<circle cx="527.48" cy="156.43" r="1.12" fill="#67166e"/>
<circle cx="545.87" cy="142.26" r="1.12" fill="#952667"/>
<circle cx="425.69" cy="145.06" r="1.12" fill="#8c2369"/>
<circle cx="474.55" cy="154.26" r="1.12" fill="#6f196e"/>
<circle cx="444.09" cy="162.13" r="1.12" fill="#550f6d"/>
<circle cx="454.29" cy="168.06" r="1.12" fill="#420a68"/>
<circle cx="414.56" cy="129.19" r="1.12" fill="#bf3952"/>
<circle cx="510.15" cy="145.57" r="1.12" fill="#8c2369"/>
<circle cx="420.76" cy="154.44" r="1.12" fill="#6f196e"/>
<circle cx="468.57" cy="142.80" r="1.12" fill="#952667"/>
<circle cx="553.56" cy="148.11" r="1.12" fill="#84206b"/>
<circle cx="443.35" cy="142.10" r="1.12" fill="#982766"/>
<circle cx="425.18" cy="151.34" r="1.12" fill="#7c1d6d"/>
<circle cx="499.18" cy="156.49" r="1.12" fill="#6c186e"/>
<circle cx="521.30" cy="164.81" r="1.12" fill="#510e6c"/>
<circle cx="574.89" cy="161.42" r="1.12" fill="#5c126e"/>
<circle cx="473.82" cy="167.67" r="1.12" fill="#490b6a"/>
<circle cx="513.60" cy="143.65" r="1.12" fill="#952667"/>
<circle cx="489.87" cy="161.26" r="1.12" fill="#5d126e"/>
<circle cx="518.35" cy="150.15" r="1.12" fill="#801f6c"/>
<circle cx="483.34" cy="166.50" r="1.12" fill="#4d0d6c"/>
<circle cx="523.46" cy="111.77" r="1.12" fill="#eb6628"/>
<circle cx="529.21" cy="154.60" r="1.12" fill="#741a6e"/>
<circle cx="413.18" cy="153.68" r="1.12" fill="#771c6d"/>
<circle cx="561.30" cy="166.39" r="1.12" fill="#4d0d6c"/>
<circle cx="550.28" cy="162.96" r="1.12" fill="#59106e"/>
<circle cx="554.55" cy="158.08" r="1.12" fill="#69166e"/>
<circle cx="442.22" cy="193.91" r="1.12" fill="#02010a"/>
<circle cx="492.62" cy="143.37" r="1.12" fill="#9a2865"/>
<circle cx="485.41" cy="169.79" r="1.12" fill="#450a69"/>
<circle cx="498.35" cy="165.49" r="1.12" fill="#540f6d"/>
<circle cx="421.08" cy="155.34" r="1.12" fill="#751b6e"/>
<circle cx="419.08" cy="133.08" r="1.12" fill="#bc3754"/>
<circle cx="573.00" cy="150.56" r="1.12" fill="#84206b"/>
<circle cx="474.23" cy="153.48" r="1.12" fill="#7c1d6d"/>
<circle cx="481.37" cy="156.03" r="1.12" fill="#741a6e"/>
<circle cx="409.94" cy="149.28" r="1.12" fill="#8a226a"/>
<circle cx="456.80" cy="154.01" r="1.12" fill="#7a1d6d"/>
<circle cx="432.48" cy="160.52" r="1.12" fill="#65156e"/>
<circle cx="446.92" cy="162.42" r="1.12" fill="#5f136e"/>
<circle cx="448.88" cy="168.04" r="1.12" fill="#4d0d6c"/>
<circle cx="456.40" cy="142.25" r="1.12" fill="#a22b62"/>
<circle cx="477.97" cy="160.67" r="1.12" fill="#67166e"/>
<circle cx="563.97" cy="139.40" r="1.12" fill="#a92e5e"/>
<circle cx="437.92" cy="156.11" r="1.12" fill="#751b6e"/>
<circle cx="501.93" cy="161.06" r="1.12" fill="#65156e"/>
<circle cx="515.17" cy="169.69" r="1.12" fill="#4a0c6b"/>
<circle cx="464.07" cy="149.26" r="1.12" fill="#8c2369"/>
<circle cx="457.36" cy="156.45" r="1.12" fill="#751b6e"/>
<circle cx="429.70" cy="150.60" r="1.12" fill="#88226a"/>
<circle cx="438.79" cy="159.58" r="1.12" fill="#6c186e"/>
<circle cx="438.35" cy="168.74" r="1.12" fill="#4f0d6c"/>
<circle cx="517.84" cy="155.51" r="1.12" fill="#7a1d6d"/>
<circle cx="551.12" cy="139.92" r="1.12" fill="#ab2f5e"/>
<circle cx="559.58" cy="151.69" r="1.12" fill="#87216b"/>
<circle cx="563.62" cy="145.78" r="1.12" fill="#982766"/>
<circle cx="494.45" cy="162.03" r="1.12" fill="#65156e"/>
<circle cx="461.26" cy="151.50" r="1.12" fill="#87216b"/>
<circle cx="404.33" cy="153.19" r="1.12" fill="#82206c"/>
<circle cx="567.83" cy="145.25" r="1.12" fill="#9b2964"/>
<circle cx="485.89" cy="169.78" r="1.12" fill="#4d0d6c"/>
<circle cx="547.78" cy="168.16" r="1.12" fill="#520e6d"/>
<circle cx="534.38" cy="155.14" r="1.12" fill="#7d1e6d"/>
<circle cx="557.68" cy="159.05" r="1.12" fill="#71196e"/>
<circle cx="469.72" cy="161.69" r="1.12" fill="#69166e"/>
<circle cx="563.75" cy="162.25" r="1.12" fill="#67166e"/>
<circle cx="408.92" cy="160.75" r="1.12" fill="#6c186e"/>
<circle cx="511.76" cy="152.77" r="1.12" fill="#85216b"/>
<circle cx="540.96" cy="166.54" r="1.12" fill="#5a116e"/>
<circle cx="570.79" cy="158.53" r="1.12" fill="#741a6e"/>
<circle cx="449.81" cy="155.89" r="1.12" fill="#7c1d6d"/>
<circle cx="502.50" cy="164.04" r="1.12" fill="#62146e"/>
<circle cx="552.35" cy="127.79" r="1.12" fill="#d24644"/>
<circle cx="522.16" cy="147.66" r="1.12" fill="#972766"/>
<circle cx="460.61" cy="162.97" r="1.12" fill="#65156e"/>
<circle cx="478.89" cy="143.45" r="1.12" fill="#a52c60"/>
<circle cx="413.79" cy="149.14" r="1.12" fill="#922568"/>
<circle cx="437.88" cy="171.27" r="1.12" fill="#4c0c6b"/>
<circle cx="465.37" cy="168.94" r="1.12" fill="#540f6d"/>
<circle cx="428.65" cy="155.79" r="1.12" fill="#7f1e6c"/>
<circle cx="536.44" cy="170.70" r="1.12" fill="#4f0d6c"/>
<circle cx="416.67" cy="135.85" r="1.12" fill="#bd3853"/>
<circle cx="520.40" cy="170.33" r="1.12" fill="#510e6c"/>
<circle cx="491.36" cy="156.35" r="1.12" fill="#7d1e6d"/>
<circle cx="492.98" cy="180.33" r="1.12" fill="#2f0a5b"/>
<circle cx="528.26" cy="164.28" r="1.12" fill="#65156e"/>
<circle cx="451.74" cy="168.36" r="1.12" fill="#59106e"/>
<circle cx="527.45" cy="164.18" r="1.12" fill="#65156e"/>
<circle cx="418.81" cy="160.19" r="1.12" fill="#721a6e"/>
<circle cx="494.42" cy="160.55" r="1.12" fill="#721a6e"/>
<circle cx="473.78" cy="169.21" r="1.12" fill="#550f6d"/>
<circle cx="431.65" cy="141.97" r="1.12" fill="#ad305d"/>
<circle cx="430.55" cy="171.79" r="1.12" fill="#4f0d6c"/>
<circle cx="529.39" cy="140.47" r="1.12" fill="#b1325a"/>
<circle cx="495.48" cy="162.56" r="1.12" fill="#6c186e"/>
<circle cx="424.36" cy="154.30" r="1.12" fill="#87216b"/>
<circle cx="467.71" cy="164.48" r="1.12" fill="#67166e"/>
<circle cx="504.82" cy="141.14" r="1.12" fill="#b0315b"/>
<circle cx="418.94" cy="180.07" r="1.12" fill="#340a5f"/>
<circle cx="524.47" cy="162.25" r="1.12" fill="#6d186e"/>
<circle cx="477.38" cy="162.60" r="1.12" fill="#6d186e"/>
<circle cx="476.82" cy="172.65" r="1.12" fill="#4d0d6c"/>
<circle cx="409.40" cy="178.83" r="1.12" fill="#390963"/>
<circle cx="420.34" cy="143.27" r="1.12" fill="#ab2f5e"/>
<circle cx="539.79" cy="167.20" r="1.12" fill="#5f136e"/>
<circle cx="447.15" cy="162.96" r="1.12" fill="#6d186e"/>
<circle cx="430.87" cy="164.59" r="1.12" fill="#69166e"/>
<circle cx="521.38" cy="160.64" r="1.12" fill="#751b6e"/>
<circle cx="562.11" cy="165.83" r="1.12" fill="#65156e"/>
<circle cx="533.15" cy="171.55" r="1.12" fill="#540f6d"/>
<circle cx="552.90" cy="151.61" r="1.12" fill="#922568"/>
<circle cx="409.14" cy="139.73" r="1.12" fill="#b73557"/>
<circle cx="556.56" cy="161.80" r="1.12" fill="#721a6e"/>
<circle cx="454.38" cy="154.73" r="1.12" fill="#88226a"/>
<circle cx="514.06" cy="162.05" r="1.12" fill="#721a6e"/>
<circle cx="530.43" cy="164.56" r="1.12" fill="#6a176e"/>
<circle cx="519.67" cy="180.60" r="1.12" fill="#360961"/>
<circle cx="508.17" cy="148.64" r="1.12" fill="#9d2964"/>
<circle cx="480.81" cy="160.60" r="1.12" fill="#771c6d"/>
<circle cx="483.80" cy="170.35" r="1.12" fill="#59106e"/>
<circle cx="418.94" cy="160.81" r="1.12" fill="#771c6d"/>
<circle cx="400.39" cy="157.82" r="1.12" fill="#801f6c"/>
<circle cx="490.53" cy="169.69" r="1.12" fill="#5a116e"/>
<circle cx="471.61" cy="155.91" r="1.12" fill="#87216b"/>
<circle cx="546.05" cy="177.38" r="1.12" fill="#440a68"/>
<circle cx="567.19" cy="155.33" r="1.12" fill="#8a226a"/>
<circle cx="511.37" cy="152.56" r="1.12" fill="#932667"/>
<circle cx="427.11" cy="164.33" r="1.12" fill="#6d186e"/>
<circle cx="466.25" cy="170.69" r="1.12" fill="#5a116e"/>
<circle cx="535.49" cy="151.47" r="1.12" fill="#972766"/>
<circle cx="552.68" cy="168.15" r="1.12" fill="#62146e"/>
<circle cx="567.79" cy="143.53" r="1.12" fill="#b0315b"/>
<circle cx="457.80" cy="162.50" r="1.12" fill="#751b6e"/>
<circle cx="439.18" cy="141.05" r="1.12" fill="#b93556"/>
<circle cx="484.43" cy="179.80" r="1.12" fill="#3d0965"/>
<circle cx="412.35" cy="133.69" r="1.12" fill="#cc4248"/>
<circle cx="510.49" cy="162.02" r="1.12" fill="#771c6d"/>
<circle cx="411.98" cy="148.58" r="1.12" fill="#a22b62"/>
<circle cx="411.12" cy="161.68" r="1.12" fill="#781c6d"/>
<circle cx="539.04" cy="135.24" r="1.12" fill="#ca404a"/>
<circle cx="548.28" cy="149.30" r="1.12" fill="#a02a63"/>
<circle cx="520.11" cy="168.18" r="1.12" fill="#64156e"/>
<circle cx="407.14" cy="163.99" r="1.12" fill="#721a6e"/>
<circle cx="417.86" cy="160.12" r="1.12" fill="#7f1e6c"/>
<circle cx="429.13" cy="174.78" r="1.12" fill="#510e6c"/>
<circle cx="415.34" cy="155.32" r="1.12" fill="#8f2469"/>
<circle cx="462.54" cy="156.20" r="1.12" fill="#8c2369"/>
<circle cx="539.28" cy="175.80" r="1.12" fill="#4d0d6c"/>
<circle cx="460.10" cy="168.03" r="1.12" fill="#67166e"/>
<circle cx="506.26" cy="160.63" r="1.12" fill="#7f1e6c"/>
<circle cx="529.20" cy="171.33" r="1.12" fill="#5c126e"/>
<circle cx="426.72" cy="174.20" r="1.12" fill="#540f6d"/>
<circle cx="404.60" cy="158.48" r="1.12" fill="#85216b"/>
<circle cx="565.69" cy="169.04" r="1.12" fill="#64156e"/>
<circle cx="424.97" cy="165.16" r="1.12" fill="#71196e"/>
<circle cx="478.08" cy="180.15" r="1.12" fill="#400a67"/>
<circle cx="453.86" cy="173.32" r="1.12" fill="#57106e"/>
<circle cx="500.95" cy="170.20" r="1.12" fill="#61136e"/>
<circle cx="516.95" cy="183.63" r="1.12" fill="#360961"/>
<circle cx="484.86" cy="165.85" r="1.12" fill="#6f196e"/>
<circle cx="548.56" cy="154.35" r="1.12" fill="#932667"/>
<circle cx="471.77" cy="167.93" r="1.12" fill="#69166e"/>
<circle cx="542.34" cy="182.85" r="1.12" fill="#390963"/>
<circle cx="401.38" cy="140.86" r="1.12" fill="#bf3952"/>
<circle cx="533.81" cy="170.52" r="1.12" fill="#62146e"/>
<circle cx="509.22" cy="173.08" r="1.12" fill="#5c126e"/>
<circle cx="564.96" cy="167.59" r="1.12" fill="#6d186e"/>
<circle cx="557.80" cy="160.87" r="1.12" fill="#82206c"/>
<circle cx="512.91" cy="168.31" r="1.12" fill="#6c186e"/>
<circle cx="467.80" cy="170.92" r="1.12" fill="#62146e"/>
<circle cx="434.63" cy="162.69" r="1.12" fill="#7d1e6d"/>
<circle cx="403.49" cy="164.10" r="1.12" fill="#781c6d"/>
<circle cx="432.02" cy="178.46" r="1.12" fill="#4c0c6b"/>
<circle cx="494.12" cy="157.23" r="1.12" fill="#902568"/>
<circle cx="444.01" cy="168.20" r="1.12" fill="#6d186e"/>
<circle cx="491.09" cy="142.26" r="1.12" fill="#bf3952"/>
<circle cx="558.70" cy="168.16" r="1.12" fill="#6f196e"/>
<circle cx="500.69" cy="157.65" r="1.12" fill="#902568"/>
<circle cx="445.74" cy="175.96" r="1.12" fill="#550f6d"/>
<circle cx="411.13" cy="184.02" r="1.12" fill="#3b0964"/>
<circle cx="501.19" cy="177.23" r="1.12" fill="#520e6d"/>
<circle cx="435.92" cy="172.52" r="1.12" fill="#62146e"/>
<circle cx="539.92" cy="157.05" r="1.12" fill="#932667"/>
<circle cx="545.96" cy="167.50" r="1.12" fill="#721a6e"/>
<circle cx="422.85" cy="169.96" r="1.12" fill="#6a176e"/>
<circle cx="512.57" cy="167.80" r="1.12" fill="#721a6e"/>
<circle cx="544.50" cy="181.67" r="1.12" fill="#450a69"/>
<circle cx="399.07" cy="159.18" r="1.12" fill="#8d2369"/>
<circle cx="418.25" cy="167.39" r="1.12" fill="#741a6e"/>
<circle cx="455.09" cy="155.81" r="1.12" fill="#982766"/>
<circle cx="558.70" cy="173.18" r="1.12" fill="#62146e"/>
<circle cx="491.95" cy="181.05" r="1.12" fill="#490b6a"/>
<circle cx="553.02" cy="162.72" r="1.12" fill="#84206b"/>
<circle cx="464.62" cy="131.16" r="1.12" fill="#de5238"/>
<circle cx="438.88" cy="184.04" r="1.12" fill="#400a67"/>
<circle cx="522.42" cy="168.74" r="1.12" fill="#71196e"/>
<circle cx="448.07" cy="171.32" r="1.12" fill="#69166e"/>
<circle cx="402.70" cy="171.34" r="1.12" fill="#69166e"/>
<circle cx="399.44" cy="147.62" r="1.12" fill="#b3325a"/>
<circle cx="455.57" cy="165.48" r="1.12" fill="#7c1d6d"/>
<circle cx="465.19" cy="181.00" r="1.12" fill="#4c0c6b"/>
<circle cx="526.08" cy="162.45" r="1.12" fill="#87216b"/>
<circle cx="488.66" cy="163.75" r="1.12" fill="#82206c"/>
<circle cx="509.13" cy="170.58" r="1.12" fill="#6d186e"/>
<circle cx="410.75" cy="161.44" r="1.12" fill="#8a226a"/>
<circle cx="537.70" cy="170.44" r="1.12" fill="#6d186e"/>
<circle cx="461.93" cy="160.35" r="1.12" fill="#8d2369"/>
<circle cx="439.52" cy="178.36" r="1.12" fill="#550f6d"/>
<circle cx="441.52" cy="177.92" r="1.12" fill="#550f6d"/>
<circle cx="552.77" cy="174.74" r="1.12" fill="#61136e"/>
<circle cx="439.77" cy="148.05" r="1.12" fill="#b43359"/>
<circle cx="524.13" cy="169.52" r="1.12" fill="#721a6e"/>
<circle cx="475.03" cy="166.19" r="1.12" fill="#7d1e6d"/>
<circle cx="538.25" cy="180.01" r="1.12" fill="#510e6c"/>
<circle cx="412.05" cy="167.64" r="1.12" fill="#781c6d"/>
<circle cx="413.71" cy="171.93" r="1.12" fill="#6c186e"/>
<circle cx="530.73" cy="185.04" r="1.12" fill="#420a68"/>
<circle cx="484.96" cy="164.48" r="1.12" fill="#84206b"/>
<circle cx="454.51" cy="180.51" r="1.12" fill="#520e6d"/>
<circle cx="413.86" cy="188.98" r="1.12" fill="#360961"/>
<circle cx="502.35" cy="133.16" r="1.12" fill="#de5238"/>
<circle cx="511.50" cy="184.54" r="1.12" fill="#450a69"/>
<circle cx="512.87" cy="176.69" r="1.12" fill="#5f136e"/>
<circle cx="536.43" cy="173.65" r="1.12" fill="#69166e"/>
<circle cx="426.31" cy="171.64" r="1.12" fill="#6f196e"/>
<circle cx="421.75" cy="181.28" r="1.12" fill="#510e6c"/>
<circle cx="496.22" cy="163.16" r="1.12" fill="#8a226a"/>
<circle cx="465.44" cy="186.27" r="1.12" fill="#420a68"/>
<circle cx="463.04" cy="163.90" r="1.12" fill="#88226a"/>
<circle cx="432.38" cy="189.49" r="1.12" fill="#380962"/>
<circle cx="435.07" cy="176.82" r="1.12" fill="#61136e"/>
<circle cx="490.64" cy="183.10" r="1.12" fill="#4d0d6c"/>
<circle cx="505.65" cy="200.41" r="1.12" fill="#150b37"/>
<circle cx="495.05" cy="152.45" r="1.12" fill="#ad305d"/>
<circle cx="501.71" cy="181.88" r="1.12" fill="#520e6d"/>
<circle cx="396.57" cy="160.19" r="1.12" fill="#952667"/>
<circle cx="546.80" cy="164.35" r="1.12" fill="#88226a"/>
<circle cx="406.71" cy="173.67" r="1.12" fill="#6c186e"/>
<circle cx="387.44" cy="165.32" r="1.12" fill="#87216b"/>
<circle cx="499.27" cy="173.57" r="1.12" fill="#6c186e"/>
<circle cx="504.61" cy="159.87" r="1.12" fill="#982766"/>
<circle cx="545.96" cy="178.51" r="1.12" fill="#5d126e"/>
<circle cx="401.77" cy="171.19" r="1.12" fill="#751b6e"/>
<circle cx="425.77" cy="171.96" r="1.12" fill="#721a6e"/>
<circle cx="421.16" cy="174.86" r="1.12" fill="#69166e"/>
<circle cx="491.68" cy="187.25" r="1.12" fill="#420a68"/>
<circle cx="452.06" cy="178.98" r="1.12" fill="#5c126e"/>
<circle cx="545.00" cy="141.95" r="1.12" fill="#ce4347"/>
<circle cx="462.04" cy="170.77" r="1.12" fill="#771c6d"/>
<circle cx="472.25" cy="169.26" r="1.12" fill="#7c1d6d"/>
<circle cx="414.35" cy="179.10" r="1.12" fill="#5d126e"/>
<circle cx="394.48" cy="151.58" r="1.12" fill="#b3325a"/>
<circle cx="443.26" cy="134.10" r="1.12" fill="#e05536"/>
<circle cx="497.61" cy="167.09" r="1.12" fill="#84206b"/>
<circle cx="448.92" cy="152.73" r="1.12" fill="#b0315b"/>
<circle cx="471.80" cy="178.98" r="1.12" fill="#5f136e"/>
<circle cx="405.75" cy="160.16" r="1.12" fill="#9a2865"/>
<circle cx="506.95" cy="180.15" r="1.12" fill="#5c126e"/>
<circle cx="471.15" cy="163.30" r="1.12" fill="#902568"/>
<circle cx="514.94" cy="176.18" r="1.12" fill="#69166e"/>
<circle cx="521.76" cy="175.62" r="1.12" fill="#6a176e"/>
<circle cx="498.66" cy="184.70" r="1.12" fill="#4d0d6c"/>
<circle cx="467.87" cy="191.22" r="1.12" fill="#380962"/>
<circle cx="448.36" cy="181.07" r="1.12" fill="#59106e"/>
<circle cx="526.73" cy="166.52" r="1.12" fill="#87216b"/>
<circle cx="514.61" cy="178.31" r="1.12" fill="#62146e"/>
<circle cx="438.38" cy="186.33" r="1.12" fill="#490b6a"/>
<circle cx="519.52" cy="158.85" r="1.12" fill="#a02a63"/>
<circle cx="390.92" cy="170.26" r="1.12" fill="#7d1e6d"/>
<circle cx="550.74" cy="165.95" r="1.12" fill="#8a226a"/>
<circle cx="398.49" cy="160.65" r="1.12" fill="#9b2964"/>
<circle cx="532.00" cy="166.40" r="1.12" fill="#8a226a"/>
<circle cx="471.88" cy="188.15" r="1.12" fill="#470b6a"/>
<circle cx="490.35" cy="188.28" r="1.12" fill="#470b6a"/>
<circle cx="545.16" cy="182.09" r="1.12" fill="#5a116e"/>
<circle cx="471.33" cy="178.73" r="1.12" fill="#64156e"/>
<circle cx="441.47" cy="182.33" r="1.12" fill="#5a116e"/>
<circle cx="554.86" cy="163.41" r="1.12" fill="#952667"/>
<circle cx="483.41" cy="166.14" r="1.12" fill="#8d2369"/>
<circle cx="554.34" cy="175.37" r="1.12" fill="#71196e"/>
<circle cx="436.33" cy="137.16" r="1.12" fill="#df5337"/>
<circle cx="396.40" cy="170.02" r="1.12" fill="#82206c"/>
<circle cx="392.16" cy="152.58" r="1.12" fill="#b73557"/>
<circle cx="548.29" cy="179.62" r="1.12" fill="#64156e"/>
<circle cx="469.82" cy="191.03" r="1.12" fill="#400a67"/>
<circle cx="420.26" cy="190.53" r="1.12" fill="#420a68"/>
<circle cx="555.49" cy="177.47" r="1.12" fill="#6c186e"/>
<circle cx="484.13" cy="182.60" r="1.12" fill="#5c126e"/>
<circle cx="518.21" cy="183.94" r="1.12" fill="#59106e"/>
<circle cx="474.11" cy="154.47" r="1.12" fill="#b3325a"/>
<circle cx="427.42" cy="186.25" r="1.12" fill="#510e6c"/>
<circle cx="426.57" cy="175.23" r="1.12" fill="#741a6e"/>
<circle cx="544.70" cy="192.38" r="1.12" fill="#3d0965"/>
<circle cx="528.62" cy="168.12" r="1.12" fill="#8a226a"/>
<circle cx="524.40" cy="186.82" r="1.12" fill="#4f0d6c"/>
<circle cx="531.58" cy="183.38" r="1.12" fill="#5a116e"/>
<circle cx="406.97" cy="185.71" r="1.12" fill="#540f6d"/>
<circle cx="446.27" cy="185.76" r="1.12" fill="#540f6d"/>
<circle cx="478.42" cy="161.39" r="1.12" fill="#a02a63"/>
<circle cx="484.22" cy="172.45" r="1.12" fill="#7d1e6d"/>
<circle cx="389.63" cy="150.40" r="1.12" fill="#c13a50"/>
<circle cx="409.62" cy="171.35" r="1.12" fill="#82206c"/>
<circle cx="538.50" cy="180.76" r="1.12" fill="#65156e"/>
<circle cx="451.30" cy="176.21" r="1.12" fill="#741a6e"/>
<circle cx="444.76" cy="209.38" r="1.12" fill="#0c0826"/>
<circle cx="428.46" cy="160.35" r="1.12" fill="#a52c60"/>
<circle cx="479.70" cy="188.98" r="1.12" fill="#4c0c6b"/>
<circle cx="542.01" cy="173.97" r="1.12" fill="#7a1d6d"/>
<circle cx="497.41" cy="192.48" r="1.12" fill="#400a67"/>
<circle cx="527.62" cy="183.38" r="1.12" fill="#5d126e"/>
<circle cx="444.41" cy="175.68" r="1.12" fill="#771c6d"/>
<circle cx="506.00" cy="173.28" r="1.12" fill="#7f1e6c"/>
<circle cx="458.56" cy="154.64" r="1.12" fill="#b73557"/>
<circle cx="494.54" cy="157.98" r="1.12" fill="#ae305c"/>
<circle cx="516.86" cy="190.45" r="1.12" fill="#4a0c6b"/>
<circle cx="503.58" cy="172.51" r="1.12" fill="#82206c"/>
<circle cx="403.22" cy="167.01" r="1.12" fill="#952667"/>
<circle cx="532.95" cy="179.27" r="1.12" fill="#6f196e"/>
<circle cx="428.40" cy="187.75" r="1.12" fill="#540f6d"/>
<circle cx="478.00" cy="180.10" r="1.12" fill="#6c186e"/>
<circle cx="446.30" cy="148.30" r="1.12" fill="#cc4248"/>
<circle cx="419.16" cy="181.66" r="1.12" fill="#69166e"/>
<circle cx="399.39" cy="171.10" r="1.12" fill="#8a226a"/>
<circle cx="415.80" cy="159.60" r="1.12" fill="#ae305c"/>
<circle cx="478.34" cy="162.38" r="1.12" fill="#a52c60"/>
<circle cx="475.61" cy="182.23" r="1.12" fill="#69166e"/>
<circle cx="513.17" cy="175.41" r="1.12" fill="#7f1e6c"/>
<circle cx="412.83" cy="179.31" r="1.12" fill="#721a6e"/>
<circle cx="522.10" cy="197.14" r="1.12" fill="#390963"/>
<circle cx="539.72" cy="193.89" r="1.12" fill="#450a69"/>
<circle cx="548.93" cy="178.26" r="1.12" fill="#771c6d"/>
<circle cx="455.25" cy="158.10" r="1.12" fill="#b43359"/>
<circle cx="501.47" cy="180.49" r="1.12" fill="#71196e"/>
<circle cx="440.30" cy="182.04" r="1.12" fill="#6c186e"/>
<circle cx="503.53" cy="196.98" r="1.12" fill="#3d0965"/>
<circle cx="487.65" cy="150.25" r="1.12" fill="#cb4149"/>
<circle cx="494.92" cy="178.36" r="1.12" fill="#781c6d"/>
<circle cx="464.65" cy="170.12" r="1.12" fill="#922568"/>
<circle cx="523.10" cy="161.45" r="1.12" fill="#ae305c"/>
<circle cx="519.00" cy="181.03" r="1.12" fill="#721a6e"/>
<circle cx="449.58" cy="187.91" r="1.12" fill="#5d126e"/>
<circle cx="470.87" cy="182.76" r="1.12" fill="#6d186e"/>
<circle cx="457.40" cy="171.47" r="1.12" fill="#902568"/>
<circle cx="484.00" cy="184.13" r="1.12" fill="#6a176e"/>
<circle cx="415.83" cy="172.97" r="1.12" fill="#8d2369"/>
<circle cx="537.97" cy="164.44" r="1.12" fill="#a82e5f"/>
<circle cx="444.54" cy="185.35" r="1.12" fill="#67166e"/>
<circle cx="462.18" cy="195.42" r="1.12" fill="#490b6a"/>
<circle cx="439.88" cy="169.76" r="1.12" fill="#982766"/>
<circle cx="466.54" cy="190.14" r="1.12" fill="#59106e"/>
<circle cx="421.83" cy="176.20" r="1.12" fill="#85216b"/>
<circle cx="512.81" cy="184.42" r="1.12" fill="#6c186e"/>
<circle cx="436.01" cy="183.38" r="1.12" fill="#71196e"/>
<circle cx="490.10" cy="172.88" r="1.12" fill="#902568"/>
<circle cx="463.18" cy="173.28" r="1.12" fill="#8f2469"/>
<circle cx="532.81" cy="173.75" r="1.12" fill="#8d2369"/>
<circle cx="424.57" cy="181.30" r="1.12" fill="#771c6d"/>
<circle cx="507.33" cy="199.88" r="1.12" fill="#3d0965"/>
<circle cx="479.11" cy="183.37" r="1.12" fill="#71196e"/>
<circle cx="493.45" cy="194.05" r="1.12" fill="#4f0d6c"/>
<circle cx="529.93" cy="184.91" r="1.12" fill="#6c186e"/>
<circle cx="527.16" cy="193.81" r="1.12" fill="#510e6c"/>
<circle cx="515.01" cy="189.89" r="1.12" fill="#5d126e"/>
<circle cx="431.40" cy="173.93" r="1.12" fill="#8f2469"/>
<circle cx="524.42" cy="171.96" r="1.12" fill="#952667"/>
<circle cx="518.72" cy="184.61" r="1.12" fill="#6d186e"/>
<circle cx="432.76" cy="165.96" r="1.12" fill="#a82e5f"/>
<circle cx="437.72" cy="188.89" r="1.12" fill="#61136e"/>
<circle cx="536.26" cy="183.27" r="1.12" fill="#741a6e"/>
<circle cx="542.96" cy="199.41" r="1.12" fill="#400a67"/>
<circle cx="533.50" cy="184.75" r="1.12" fill="#6f196e"/>
<circle cx="456.13" cy="155.34" r="1.12" fill="#c73e4c"/>
<circle cx="430.63" cy="190.43" r="1.12" fill="#5d126e"/>
<circle cx="513.07" cy="199.95" r="1.12" fill="#400a67"/>
<circle cx="462.96" cy="190.19" r="1.12" fill="#61136e"/>
<circle cx="544.37" cy="178.96" r="1.12" fill="#82206c"/>
<circle cx="449.24" cy="172.07" r="1.12" fill="#9a2865"/>
<circle cx="478.16" cy="201.71" r="1.12" fill="#3e0966"/>
<circle cx="496.88" cy="197.34" r="1.12" fill="#4f0d6c"/>
<circle cx="499.55" cy="172.57" r="1.12" fill="#9b2964"/>
<circle cx="518.25" cy="187.26" r="1.12" fill="#6d186e"/>
<circle cx="437.11" cy="185.30" r="1.12" fill="#751b6e"/>
<circle cx="489.66" cy="172.28" r="1.12" fill="#9d2964"/>
<circle cx="486.35" cy="188.55" r="1.12" fill="#6c186e"/>
<circle cx="494.00" cy="172.01" r="1.12" fill="#9f2a63"/>
<circle cx="487.75" cy="180.31" r="1.12" fill="#85216b"/>
<circle cx="480.18" cy="177.26" r="1.12" fill="#8f2469"/>
<circle cx="508.86" cy="176.28" r="1.12" fill="#922568"/>
<circle cx="506.53" cy="202.80" r="1.12" fill="#400a67"/>
<circle cx="497.73" cy="194.96" r="1.12" fill="#59106e"/>
<circle cx="450.06" cy="191.06" r="1.12" fill="#64156e"/>
<circle cx="437.63" cy="192.84" r="1.12" fill="#5f136e"/>
<circle cx="501.71" cy="175.17" r="1.12" fill="#972766"/>
<circle cx="452.84" cy="163.53" r="1.12" fill="#ba3655"/>
<circle cx="530.45" cy="195.70" r="1.12" fill="#59106e"/>
<circle cx="523.30" cy="184.24" r="1.12" fill="#7c1d6d"/>
<circle cx="533.21" cy="190.53" r="1.12" fill="#6a176e"/>
<circle cx="450.10" cy="178.89" r="1.12" fill="#8d2369"/>
<circle cx="457.18" cy="159.71" r="1.12" fill="#c73e4c"/>
<circle cx="443.80" cy="191.95" r="1.12" fill="#67166e"/>
<circle cx="538.60" cy="186.91" r="1.12" fill="#771c6d"/>
<circle cx="471.99" cy="194.30" r="1.12" fill="#5f136e"/>
<circle cx="456.61" cy="173.85" r="1.12" fill="#9f2a63"/>
<circle cx="508.83" cy="224.17" r="1.12" fill="#07051b"/>
<circle cx="459.94" cy="157.27" r="1.12" fill="#ce4347"/>
<circle cx="480.57" cy="189.68" r="1.12" fill="#71196e"/>
<circle cx="493.18" cy="193.15" r="1.12" fill="#65156e"/>
<circle cx="510.29" cy="194.52" r="1.12" fill="#62146e"/>
<circle cx="472.85" cy="170.71" r="1.12" fill="#ab2f5e"/>
<circle cx="489.62" cy="191.17" r="1.12" fill="#6c186e"/>
<circle cx="499.30" cy="198.37" r="1.12" fill="#57106e"/>
<circle cx="473.16" cy="182.12" r="1.12" fill="#88226a"/>
<circle cx="510.97" cy="158.17" r="1.12" fill="#ce4347"/>
<circle cx="457.08" cy="178.55" r="1.12" fill="#932667"/>
<circle cx="481.63" cy="181.73" r="1.12" fill="#8a226a"/>
<circle cx="506.48" cy="167.71" r="1.12" fill="#b43359"/>
<circle cx="463.83" cy="194.52" r="1.12" fill="#65156e"/>
<circle cx="534.92" cy="173.04" r="1.12" fill="#a82e5f"/>
<circle cx="510.54" cy="202.49" r="1.12" fill="#4d0d6c"/>
<circle cx="445.37" cy="188.69" r="1.12" fill="#781c6d"/>
<circle cx="526.89" cy="186.20" r="1.12" fill="#801f6c"/>
<circle cx="548.56" cy="154.41" r="1.12" fill="#db503b"/>
<circle cx="453.71" cy="193.49" r="1.12" fill="#6a176e"/>
<circle cx="456.62" cy="180.89" r="1.12" fill="#922568"/>
<circle cx="502.55" cy="192.39" r="1.12" fill="#6f196e"/>
<circle cx="468.19" cy="190.11" r="1.12" fill="#771c6d"/>
<circle cx="430.55" cy="158.17" r="1.12" fill="#d44842"/>
<circle cx="486.84" cy="185.34" r="1.12" fill="#87216b"/>
<circle cx="490.01" cy="190.79" r="1.12" fill="#751b6e"/>
<circle cx="473.76" cy="201.26" r="1.12" fill="#550f6d"/>
<circle cx="503.61" cy="198.49" r="1.12" fill="#5f136e"/>
<circle cx="531.41" cy="177.16" r="1.12" fill="#a22b62"/>
<circle cx="502.16" cy="210.39" r="1.12" fill="#3b0964"/>
<circle cx="460.01" cy="188.50" r="1.12" fill="#7f1e6c"/>
<circle cx="472.20" cy="185.81" r="1.12" fill="#8a226a"/>
<circle cx="469.07" cy="172.41" r="1.12" fill="#b3325a"/>
<circle cx="516.80" cy="184.91" r="1.12" fill="#8d2369"/>
<circle cx="492.61" cy="211.25" r="1.12" fill="#3b0964"/>
<circle cx="484.79" cy="192.01" r="1.12" fill="#781c6d"/>
<circle cx="469.63" cy="157.04" r="1.12" fill="#db503b"/>
<circle cx="458.22" cy="195.83" r="1.12" fill="#6c186e"/>
<circle cx="533.82" cy="193.87" r="1.12" fill="#721a6e"/>
<circle cx="491.50" cy="206.03" r="1.12" fill="#4d0d6c"/>
<circle cx="476.97" cy="194.65" r="1.12" fill="#71196e"/>
<circle cx="473.41" cy="201.42" r="1.12" fill="#5c126e"/>
<circle cx="530.60" cy="192.64" r="1.12" fill="#781c6d"/>
<circle cx="498.49" cy="203.87" r="1.12" fill="#57106e"/>
<circle cx="499.06" cy="188.96" r="1.12" fill="#85216b"/>
<circle cx="511.01" cy="186.98" r="1.12" fill="#8c2369"/>
<circle cx="502.56" cy="187.01" r="1.12" fill="#8c2369"/>
<circle cx="537.02" cy="190.48" r="1.12" fill="#801f6c"/>
<circle cx="523.00" cy="193.17" r="1.12" fill="#781c6d"/>
<circle cx="529.69" cy="194.85" r="1.12" fill="#751b6e"/>
<circle cx="466.71" cy="196.11" r="1.12" fill="#721a6e"/>
<circle cx="503.14" cy="210.85" r="1.12" fill="#450a69"/>
<circle cx="529.26" cy="203.20" r="1.12" fill="#5d126e"/>
<circle cx="457.09" cy="180.34" r="1.12" fill="#a32c61"/>
<circle cx="477.98" cy="197.67" r="1.12" fill="#6d186e"/>
<circle cx="485.34" cy="193.26" r="1.12" fill="#7d1e6d"/>
<circle cx="509.34" cy="207.04" r="1.12" fill="#520e6d"/>
<circle cx="519.29" cy="194.20" r="1.12" fill="#7a1d6d"/>
<circle cx="520.79" cy="167.58" r="1.12" fill="#ca404a"/>
<circle cx="524.43" cy="179.36" r="1.12" fill="#a92e5e"/>
<circle cx="528.95" cy="205.61" r="1.12" fill="#5a116e"/>
<circle cx="483.32" cy="207.60" r="1.12" fill="#550f6d"/>
<circle cx="501.12" cy="197.57" r="1.12" fill="#751b6e"/>
<circle cx="520.29" cy="176.81" r="1.12" fill="#b43359"/>
<circle cx="492.18" cy="206.94" r="1.12" fill="#59106e"/>
<circle cx="467.90" cy="190.27" r="1.12" fill="#8d2369"/>
<circle cx="481.02" cy="177.22" r="1.12" fill="#b43359"/>
<circle cx="517.85" cy="209.80" r="1.12" fill="#550f6d"/>
<circle cx="493.70" cy="175.79" r="1.12" fill="#bc3754"/>
<circle cx="518.04" cy="202.07" r="1.12" fill="#6d186e"/>
<circle cx="515.00" cy="183.95" r="1.12" fill="#a52c60"/>
<circle cx="492.77" cy="204.58" r="1.12" fill="#67166e"/>
<circle cx="526.17" cy="208.16" r="1.12" fill="#5d126e"/>
<circle cx="521.51" cy="199.58" r="1.12" fill="#781c6d"/>
<circle cx="509.68" cy="207.22" r="1.12" fill="#62146e"/>
<circle cx="476.44" cy="194.75" r="1.12" fill="#88226a"/>
<circle cx="504.46" cy="202.99" r="1.12" fill="#6f196e"/>
<circle cx="500.05" cy="211.85" r="1.12" fill="#550f6d"/>
<circle cx="505.90" cy="210.68" r="1.12" fill="#5a116e"/>
<circle cx="507.67" cy="209.87" r="1.12" fill="#62146e"/>
<circle cx="496.64" cy="190.86" r="1.12" fill="#9b2964"/>
<circle cx="484.96" cy="172.10" r="1.12" fill="#d24644"/>
<circle cx="485.55" cy="192.20" r="1.12" fill="#9a2865"/>
<circle cx="522.13" cy="180.24" r="1.12" fill="#c03a51"/>
<circle cx="495.62" cy="204.73" r="1.12" fill="#781c6d"/>
<circle cx="510.30" cy="208.37" r="1.12" fill="#71196e"/>
<circle cx="522.00" cy="198.56" r="1.12" fill="#8f2469"/>
<circle cx="520.57" cy="206.46" r="1.12" fill="#781c6d"/>
<circle cx="515.77" cy="208.27" r="1.12" fill="#741a6e"/>
<circle cx="502.80" cy="195.90" r="1.12" fill="#9b2964"/>
<circle cx="514.77" cy="206.23" r="1.12" fill="#84206b"/>
<circle cx="512.26" cy="205.19" r="1.12" fill="#88226a"/>
<circle cx="513.64" cy="155.97" r="1.12" fill="#fb9906"/>
<circle cx="449.40" cy="210.90" r="1.12" fill="#110a30"/>
<circle cx="575.50" cy="168.50" r="1.12" fill="#010108"/>
<circle cx="490.30" cy="222.20" r="1.12" fill="#09061f"/>
<circle cx="517.10" cy="220.40" r="1.12" fill="#4f0d6c"/>
<circle cx="522.10" cy="224.70" r="1.12" fill="#2d0b59"/>
<circle cx="519.10" cy="211.50" r="1.12" fill="#57106e"/>
<circle cx="520.10" cy="213.00" r="1.12" fill="#57106e"/>
<circle cx="563.00" cy="195.40" r="1.12" fill="#010108"/>
<circle cx="561.00" cy="188.00" r="1.12" fill="#2d0b59"/>
<circle cx="558.80" cy="183.00" r="1.12" fill="#4f0d6c"/>
<circle cx="585.50" cy="166.30" r="1.12" fill="#010108"/>
<circle cx="485.30" cy="227.10" r="1.12" fill="#030210"/>
<circle cx="490.60" cy="226.40" r="1.12" fill="#010108"/>
<circle cx="495.30" cy="228.40" r="1.12" fill="#110a30"/>
<circle cx="498.00" cy="223.40" r="1.12" fill="#2d0b59"/>
<circle cx="490.60" cy="216.50" r="1.12" fill="#4f0d6c"/>
<circle cx="501.70" cy="215.50" r="1.12" fill="#4f0d6c"/>
<circle cx="503.50" cy="212.30" r="1.12" fill="#4f0d6c"/>
<circle cx="512.10" cy="239.60" r="1.12" fill="#010108"/>
<circle cx="452.40" cy="194.20" r="1.12" fill="#4f0d6c"/>
<circle cx="449.40" cy="198.00" r="1.12" fill="#4f0d6c"/>
<circle cx="451.40" cy="197.70" r="1.12" fill="#470b6a"/>
<circle cx="455.60" cy="199.20" r="1.12" fill="#4f0d6c"/>
<circle cx="457.60" cy="199.00" r="1.12" fill="#4f0d6c"/>
<circle cx="465.70" cy="209.80" r="1.12" fill="#110a30"/>
<circle cx="485.30" cy="221.70" r="1.12" fill="#110a30"/>
<circle cx="404.70" cy="124.00" r="1.12" fill="#e25734"/>
<circle cx="424.10" cy="113.80" r="1.12" fill="#c43c4e"/>
<circle cx="453.90" cy="217.80" r="1.12" fill="#010108"/>
<circle cx="457.60" cy="215.80" r="1.12" fill="#09061f"/>
<circle cx="458.60" cy="212.10" r="1.12" fill="#2d0b59"/>
<circle cx="461.40" cy="211.40" r="1.12" fill="#0e092b"/>
<circle cx="464.80" cy="209.60" r="1.12" fill="#2d0b59"/>
<circle cx="462.60" cy="205.90" r="1.12" fill="#4f0d6c"/>
<circle cx="449.00" cy="194.70" r="1.12" fill="#4f0d6c"/>
<circle cx="433.30" cy="100.20" r="1.12" fill="#e75e2e"/>
<circle cx="445.70" cy="111.60" r="1.12" fill="#8f2469"/>
<circle cx="440.00" cy="120.00" r="1.12" fill="#8f2469"/>
<circle cx="432.00" cy="120.00" r="1.12" fill="#8f2469"/>
<circle cx="428.80" cy="121.50" r="1.12" fill="#a62d60"/>
<circle cx="425.10" cy="122.00" r="1.12" fill="#bd3853"/>
<circle cx="436.50" cy="112.80" r="1.12" fill="#ae305c"/>
<circle cx="431.50" cy="103.40" r="1.12" fill="#e25734"/>
<circle cx="428.80" cy="78.10" r="1.12" fill="#f7d340"/>
<circle cx="425.80" cy="81.10" r="1.12" fill="#fac026"/>
<circle cx="385.60" cy="105.10" r="1.12" fill="#fcffa4"/>
<circle cx="444.40" cy="99.20" r="1.12" fill="#ae305c"/>
<circle cx="390.60" cy="120.00" r="1.12" fill="#f8870e"/>
<circle cx="409.70" cy="119.00" r="1.12" fill="#e75e2e"/>
<circle cx="408.50" cy="120.80" r="1.12" fill="#e75e2e"/>
<circle cx="407.20" cy="109.10" r="1.12" fill="#f8870e"/>
<circle cx="446.90" cy="66.90" r="1.12" fill="#fac026"/>
<circle cx="459.30" cy="67.90" r="1.12" fill="#fa9008"/>
<circle cx="399.10" cy="195.20" r="1.12" fill="#110a30"/>
<circle cx="399.80" cy="197.70" r="1.12" fill="#09061f"/>
<circle cx="401.80" cy="201.40" r="1.12" fill="#010108"/>
<circle cx="405.50" cy="193.00" r="1.12" fill="#4f0d6c"/>
<circle cx="422.90" cy="193.00" r="1.12" fill="#4f0d6c"/>
<circle cx="427.60" cy="200.20" r="1.12" fill="#2d0b59"/>
<circle cx="432.10" cy="202.70" r="1.12" fill="#2d0b59"/>
<circle cx="431.60" cy="191.50" r="1.12" fill="#4f0d6c"/>
<circle cx="449.40" cy="81.80" r="1.12" fill="#f8870e"/>
<circle cx="426.60" cy="86.50" r="1.12" fill="#fbb61a"/>
<circle cx="453.10" cy="90.50" r="1.12" fill="#e75e2e"/>
<circle cx="451.40" cy="92.20" r="1.12" fill="#e75e2e"/>
<circle cx="459.80" cy="90.20" r="1.12" fill="#c43c4e"/>
<circle cx="432.00" cy="96.40" r="1.12" fill="#f67e14"/>
<circle cx="386.70" cy="199.70" r="1.12" fill="#010108"/>
<circle cx="387.90" cy="192.80" r="1.12" fill="#010108"/>
<circle cx="411.00" cy="128.60" r="1.12" fill="#bd3853"/>
<circle cx="393.60" cy="147.20" r="1.12" fill="#a62d60"/>
<circle cx="388.60" cy="147.20" r="1.12" fill="#bd3853"/>
<circle cx="396.80" cy="137.30" r="1.12" fill="#bd3853"/>
<circle cx="393.10" cy="186.10" r="1.12" fill="#4f0d6c"/>
<circle cx="397.80" cy="193.50" r="1.12" fill="#110a30"/>
<circle cx="382.90" cy="142.30" r="1.12" fill="#d84c3e"/>
<circle cx="392.90" cy="139.80" r="1.12" fill="#bd3853"/>
<circle cx="560.60" cy="107.10" r="1.12" fill="#e75e2e"/>
<circle cx="563.00" cy="107.90" r="1.12" fill="#e75e2e"/>
<circle cx="586.20" cy="92.80" r="1.12" fill="#fcac11"/>
<circle cx="583.40" cy="120.50" r="1.12" fill="#d84c3e"/>
<circle cx="582.60" cy="128.30" r="1.12" fill="#c43c4e"/>
<circle cx="394.40" cy="133.60" r="1.12" fill="#d84c3e"/>
<circle cx="528.30" cy="105.40" r="1.12" fill="#c43c4e"/>
<circle cx="524.10" cy="100.90" r="1.12" fill="#dd513a"/>
<circle cx="503.00" cy="93.50" r="1.12" fill="#dd513a"/>
<circle cx="497.30" cy="89.20" r="1.12" fill="#eb6628"/>
<circle cx="499.00" cy="84.00" r="1.12" fill="#f8870e"/>
<circle cx="473.70" cy="70.60" r="1.12" fill="#f8870e"/>
<circle cx="554.40" cy="108.80" r="1.12" fill="#dd513a"/>
<circle cx="558.60" cy="110.10" r="1.12" fill="#dd513a"/>
<circle cx="570.20" cy="169.20" r="1.12" fill="#0e092b"/>
<circle cx="566.70" cy="166.70" r="1.12" fill="#2d0b59"/>
</g>
<line x1="370.27" y1="211.72" x2="521.46" y2="260.65" stroke="#000" stroke-width="0.95" stroke-linecap="square"/>
<line x1="521.46" y1="260.65" x2="601.30" y2="178.93" stroke="#000" stroke-width="0.95" stroke-linecap="square"/>
<line x1="601.30" y1="178.93" x2="606.46" y2="68.30" stroke="#000" stroke-width="0.95" stroke-linecap="square"/>
<line x1="377.86" y1="215.98" x2="380.57" y2="213.71" stroke="#000" stroke-width="0.9" stroke-linecap="butt"/>
<text x="372.06" y="238.11" text-anchor="middle" textLength="15.35" lengthAdjust="spacingAndGlyphs">0.0</text>
<line x1="403.28" y1="224.22" x2="405.94" y2="221.91" stroke="#000" stroke-width="0.9" stroke-linecap="butt"/>
<text x="397.48" y="246.51" text-anchor="middle" textLength="15.35" lengthAdjust="spacingAndGlyphs">0.2</text>
<line x1="429.17" y1="232.62" x2="431.79" y2="230.26" stroke="#000" stroke-width="0.9" stroke-linecap="butt"/>
<text x="423.38" y="255.06" text-anchor="middle" textLength="15.35" lengthAdjust="spacingAndGlyphs">0.4</text>
<line x1="455.57" y1="241.18" x2="458.14" y2="238.78" stroke="#000" stroke-width="0.9" stroke-linecap="butt"/>
<text x="449.78" y="263.78" text-anchor="middle" textLength="15.35" lengthAdjust="spacingAndGlyphs">0.6</text>
<line x1="482.48" y1="249.91" x2="485.00" y2="247.46" stroke="#000" stroke-width="0.9" stroke-linecap="butt"/>
<text x="476.70" y="272.67" text-anchor="middle" textLength="15.35" lengthAdjust="spacingAndGlyphs">0.8</text>
<line x1="509.92" y1="258.80" x2="512.39" y2="256.31" stroke="#000" stroke-width="0.9" stroke-linecap="butt"/>
<text x="504.15" y="281.73" text-anchor="middle" textLength="15.35" lengthAdjust="spacingAndGlyphs">1.0</text>
<line x1="529.55" y1="255.80" x2="525.10" y2="254.37" stroke="#000" stroke-width="0.9" stroke-linecap="butt"/>
<text x="539.99" y="276.62" text-anchor="middle" textLength="15.35" lengthAdjust="spacingAndGlyphs">0.0</text>
<line x1="544.38" y1="240.56" x2="539.98" y2="239.18" stroke="#000" stroke-width="0.9" stroke-linecap="butt"/>
<text x="554.65" y="261.19" text-anchor="middle" textLength="15.35" lengthAdjust="spacingAndGlyphs">0.2</text>
<line x1="558.72" y1="225.82" x2="554.37" y2="224.49" stroke="#000" stroke-width="0.9" stroke-linecap="butt"/>
<text x="568.82" y="246.25" text-anchor="middle" textLength="15.35" lengthAdjust="spacingAndGlyphs">0.4</text>
<line x1="572.60" y1="211.57" x2="568.30" y2="210.27" stroke="#000" stroke-width="0.9" stroke-linecap="butt"/>
<text x="582.54" y="231.81" text-anchor="middle" textLength="15.35" lengthAdjust="spacingAndGlyphs">0.6</text>
<line x1="586.04" y1="197.76" x2="581.78" y2="196.51" stroke="#000" stroke-width="0.9" stroke-linecap="butt"/>
<text x="595.82" y="217.82" text-anchor="middle" textLength="15.35" lengthAdjust="spacingAndGlyphs">0.8</text>
<line x1="599.05" y1="184.39" x2="594.84" y2="183.17" stroke="#000" stroke-width="0.9" stroke-linecap="butt"/>
<text x="608.68" y="204.27" text-anchor="middle" textLength="15.35" lengthAdjust="spacingAndGlyphs">1.0</text>
<line x1="604.02" y1="172.78" x2="599.82" y2="171.59" stroke="#000" stroke-width="0.9" stroke-linecap="butt"/>
<text x="619.99" y="177.54" text-anchor="middle" textLength="15.35" lengthAdjust="spacingAndGlyphs">0.0</text>
<line x1="604.88" y1="154.72" x2="600.64" y2="153.55" stroke="#000" stroke-width="0.9" stroke-linecap="butt"/>
<text x="620.96" y="159.53" text-anchor="middle" textLength="15.35" lengthAdjust="spacingAndGlyphs">0.5</text>
<line x1="605.75" y1="136.39" x2="601.48" y2="135.24" stroke="#000" stroke-width="0.9" stroke-linecap="butt"/>
<text x="621.95" y="141.25" text-anchor="middle" textLength="15.35" lengthAdjust="spacingAndGlyphs">1.0</text>
<line x1="606.64" y1="117.79" x2="602.34" y2="116.65" stroke="#000" stroke-width="0.9" stroke-linecap="butt"/>
<text x="622.95" y="122.69" text-anchor="middle" textLength="15.35" lengthAdjust="spacingAndGlyphs">1.5</text>
<line x1="607.54" y1="98.90" x2="603.20" y2="97.78" stroke="#000" stroke-width="0.9" stroke-linecap="butt"/>
<text x="623.96" y="103.86" text-anchor="middle" textLength="15.35" lengthAdjust="spacingAndGlyphs">2.0</text>
<line x1="608.45" y1="79.73" x2="604.08" y2="78.63" stroke="#000" stroke-width="0.9" stroke-linecap="butt"/>
<text x="624.99" y="84.74" text-anchor="middle" textLength="15.35" lengthAdjust="spacingAndGlyphs">2.5</text>
<text x="63.20" y="274.04" text-anchor="middle" textLength="5.71" lengthAdjust="spacingAndGlyphs">x</text>
<text x="225.20" y="248.95" text-anchor="middle" textLength="5.71" lengthAdjust="spacingAndGlyphs">y</text>
<text x="428.10" y="274.04" text-anchor="middle" textLength="5.71" lengthAdjust="spacingAndGlyphs">x</text>
<text x="590.10" y="248.95" text-anchor="middle" textLength="5.71" lengthAdjust="spacingAndGlyphs">y</text>
<defs><linearGradient id="gv" x1="0" y1="0" x2="0" y2="1"><stop offset="0.0000" stop-color="#fde725"/><stop offset="0.0312" stop-color="#ece51b"/><stop offset="0.0625" stop-color="#d8e219"/><stop offset="0.0938" stop-color="#c2df23"/><stop offset="0.1250" stop-color="#addc30"/><stop offset="0.1562" stop-color="#98d83e"/><stop offset="0.1875" stop-color="#84d44b"/><stop offset="0.2188" stop-color="#70cf57"/><stop offset="0.2500" stop-color="#5ec962"/><stop offset="0.2812" stop-color="#4ec36b"/><stop offset="0.3125" stop-color="#3fbc73"/><stop offset="0.3438" stop-color="#32b67a"/><stop offset="0.3750" stop-color="#28ae80"/><stop offset="0.4062" stop-color="#22a785"/><stop offset="0.4375" stop-color="#1fa088"/><stop offset="0.4688" stop-color="#1f988b"/><stop offset="0.5000" stop-color="#21918c"/><stop offset="0.5312" stop-color="#23898e"/><stop offset="0.5625" stop-color="#26828e"/><stop offset="0.5938" stop-color="#297a8e"/><stop offset="0.6250" stop-color="#2c728e"/><stop offset="0.6562" stop-color="#2f6b8e"/><stop offset="0.6875" stop-color="#33638d"/><stop offset="0.7188" stop-color="#375b8d"/><stop offset="0.7500" stop-color="#3b528b"/><stop offset="0.7812" stop-color="#3e4989"/><stop offset="0.8125" stop-color="#424086"/><stop offset="0.8438" stop-color="#453781"/><stop offset="0.8750" stop-color="#472d7b"/><stop offset="0.9062" stop-color="#482374"/><stop offset="0.9375" stop-color="#48186a"/><stop offset="0.9688" stop-color="#470d60"/><stop offset="1.0000" stop-color="#440154"/></linearGradient></defs>
<rect x="271.45" y="10.20" width="14.10" height="267.00" fill="url(#gv)" stroke="#000" stroke-width="0.8"/>
<line x1="285.55" y1="277.20" x2="289.05" y2="277.20" stroke="#000" stroke-width="0.8" stroke-linecap="butt"/>
<text x="292.55" y="280.84" text-anchor="start" textLength="6.14" lengthAdjust="spacingAndGlyphs">1</text>
<line x1="285.55" y1="235.41" x2="289.05" y2="235.41" stroke="#000" stroke-width="0.8" stroke-linecap="butt"/>
<text x="292.55" y="239.05" text-anchor="start" textLength="6.14" lengthAdjust="spacingAndGlyphs">2</text>
<line x1="285.55" y1="193.62" x2="289.05" y2="193.62" stroke="#000" stroke-width="0.8" stroke-linecap="butt"/>
<text x="292.55" y="197.26" text-anchor="start" textLength="6.14" lengthAdjust="spacingAndGlyphs">3</text>
<line x1="285.55" y1="151.83" x2="289.05" y2="151.83" stroke="#000" stroke-width="0.8" stroke-linecap="butt"/>
<text x="292.55" y="155.47" text-anchor="start" textLength="6.14" lengthAdjust="spacingAndGlyphs">4</text>
<line x1="285.55" y1="110.04" x2="289.05" y2="110.04" stroke="#000" stroke-width="0.8" stroke-linecap="butt"/>
<text x="292.55" y="113.68" text-anchor="start" textLength="6.14" lengthAdjust="spacingAndGlyphs">5</text>
<line x1="285.55" y1="68.25" x2="289.05" y2="68.25" stroke="#000" stroke-width="0.8" stroke-linecap="butt"/>
<text x="292.55" y="71.89" text-anchor="start" textLength="6.14" lengthAdjust="spacingAndGlyphs">6</text>
<line x1="285.55" y1="26.46" x2="289.05" y2="26.46" stroke="#000" stroke-width="0.8" stroke-linecap="butt"/>
<text x="292.55" y="30.10" text-anchor="start" textLength="6.14" lengthAdjust="spacingAndGlyphs">7</text>
<text x="306.65" y="147.34" text-anchor="middle" textLength="92.38" lengthAdjust="spacingAndGlyphs" transform="rotate(-90 306.65 143.70)">Numerical solution</text>
<defs><linearGradient id="gi" x1="0" y1="0" x2="0" y2="1"><stop offset="0.0000" stop-color="#fcffa4"/><stop offset="0.0312" stop-color="#f3f68a"/><stop offset="0.0625" stop-color="#f2ea69"/><stop offset="0.0938" stop-color="#f5db4c"/><stop offset="0.1250" stop-color="#f9cb35"/><stop offset="0.1562" stop-color="#fbbc21"/><stop offset="0.1875" stop-color="#fcac11"/><stop offset="0.2188" stop-color="#fb9d07"/><stop offset="0.2500" stop-color="#f98e09"/><stop offset="0.2812" stop-color="#f68013"/><stop offset="0.3125" stop-color="#f1731d"/><stop offset="0.3438" stop-color="#eb6628"/><stop offset="0.3750" stop-color="#e45a31"/><stop offset="0.4062" stop-color="#db503b"/><stop offset="0.4375" stop-color="#d24644"/><stop offset="0.4688" stop-color="#c73e4c"/><stop offset="0.5000" stop-color="#bc3754"/><stop offset="0.5312" stop-color="#b0315b"/><stop offset="0.5625" stop-color="#a32c61"/><stop offset="0.5938" stop-color="#972766"/><stop offset="0.6250" stop-color="#8a226a"/><stop offset="0.6562" stop-color="#7d1e6d"/><stop offset="0.6875" stop-color="#71196e"/><stop offset="0.7188" stop-color="#64156e"/><stop offset="0.7500" stop-color="#57106e"/><stop offset="0.7812" stop-color="#4a0c6b"/><stop offset="0.8125" stop-color="#3d0965"/><stop offset="0.8438" stop-color="#2f0a5b"/><stop offset="0.8750" stop-color="#210c4a"/><stop offset="0.9062" stop-color="#150b37"/><stop offset="0.9375" stop-color="#0b0724"/><stop offset="0.9688" stop-color="#040312"/><stop offset="1.0000" stop-color="#000004"/></linearGradient></defs>
<rect x="636.45" y="10.20" width="13.45" height="267.00" fill="url(#gi)" stroke="#000" stroke-width="0.8"/>
<line x1="649.90" y1="277.20" x2="653.40" y2="277.20" stroke="#000" stroke-width="0.8" stroke-linecap="butt"/>
<text x="656.90" y="280.84" text-anchor="start" textLength="15.35" lengthAdjust="spacingAndGlyphs">0.0</text>
<line x1="649.90" y1="225.40" x2="653.40" y2="225.40" stroke="#000" stroke-width="0.8" stroke-linecap="butt"/>
<text x="656.90" y="229.04" text-anchor="start" textLength="15.35" lengthAdjust="spacingAndGlyphs">0.5</text>
<line x1="649.90" y1="173.59" x2="653.40" y2="173.59" stroke="#000" stroke-width="0.8" stroke-linecap="butt"/>
<text x="656.90" y="177.24" text-anchor="start" textLength="15.35" lengthAdjust="spacingAndGlyphs">1.0</text>
<line x1="649.90" y1="121.79" x2="653.40" y2="121.79" stroke="#000" stroke-width="0.8" stroke-linecap="butt"/>
<text x="656.90" y="125.43" text-anchor="start" textLength="15.35" lengthAdjust="spacingAndGlyphs">1.5</text>
<line x1="649.90" y1="69.98" x2="653.40" y2="69.98" stroke="#000" stroke-width="0.8" stroke-linecap="butt"/>
<text x="656.90" y="73.63" text-anchor="start" textLength="15.35" lengthAdjust="spacingAndGlyphs">2.0</text>
<line x1="649.90" y1="18.18" x2="653.40" y2="18.18" stroke="#000" stroke-width="0.8" stroke-linecap="butt"/>
<text x="656.90" y="21.82" text-anchor="start" textLength="15.35" lengthAdjust="spacingAndGlyphs">2.5</text>
<text x="681.05" y="147.34" text-anchor="middle" textLength="70.03" lengthAdjust="spacingAndGlyphs" transform="rotate(-90 681.05 143.70)">Absolute error</text>
<text x="649.90" y="7.04" text-anchor="end" textLength="33.12" lengthAdjust="spacingAndGlyphs">1e−14</text>
</svg>
</body></html>
